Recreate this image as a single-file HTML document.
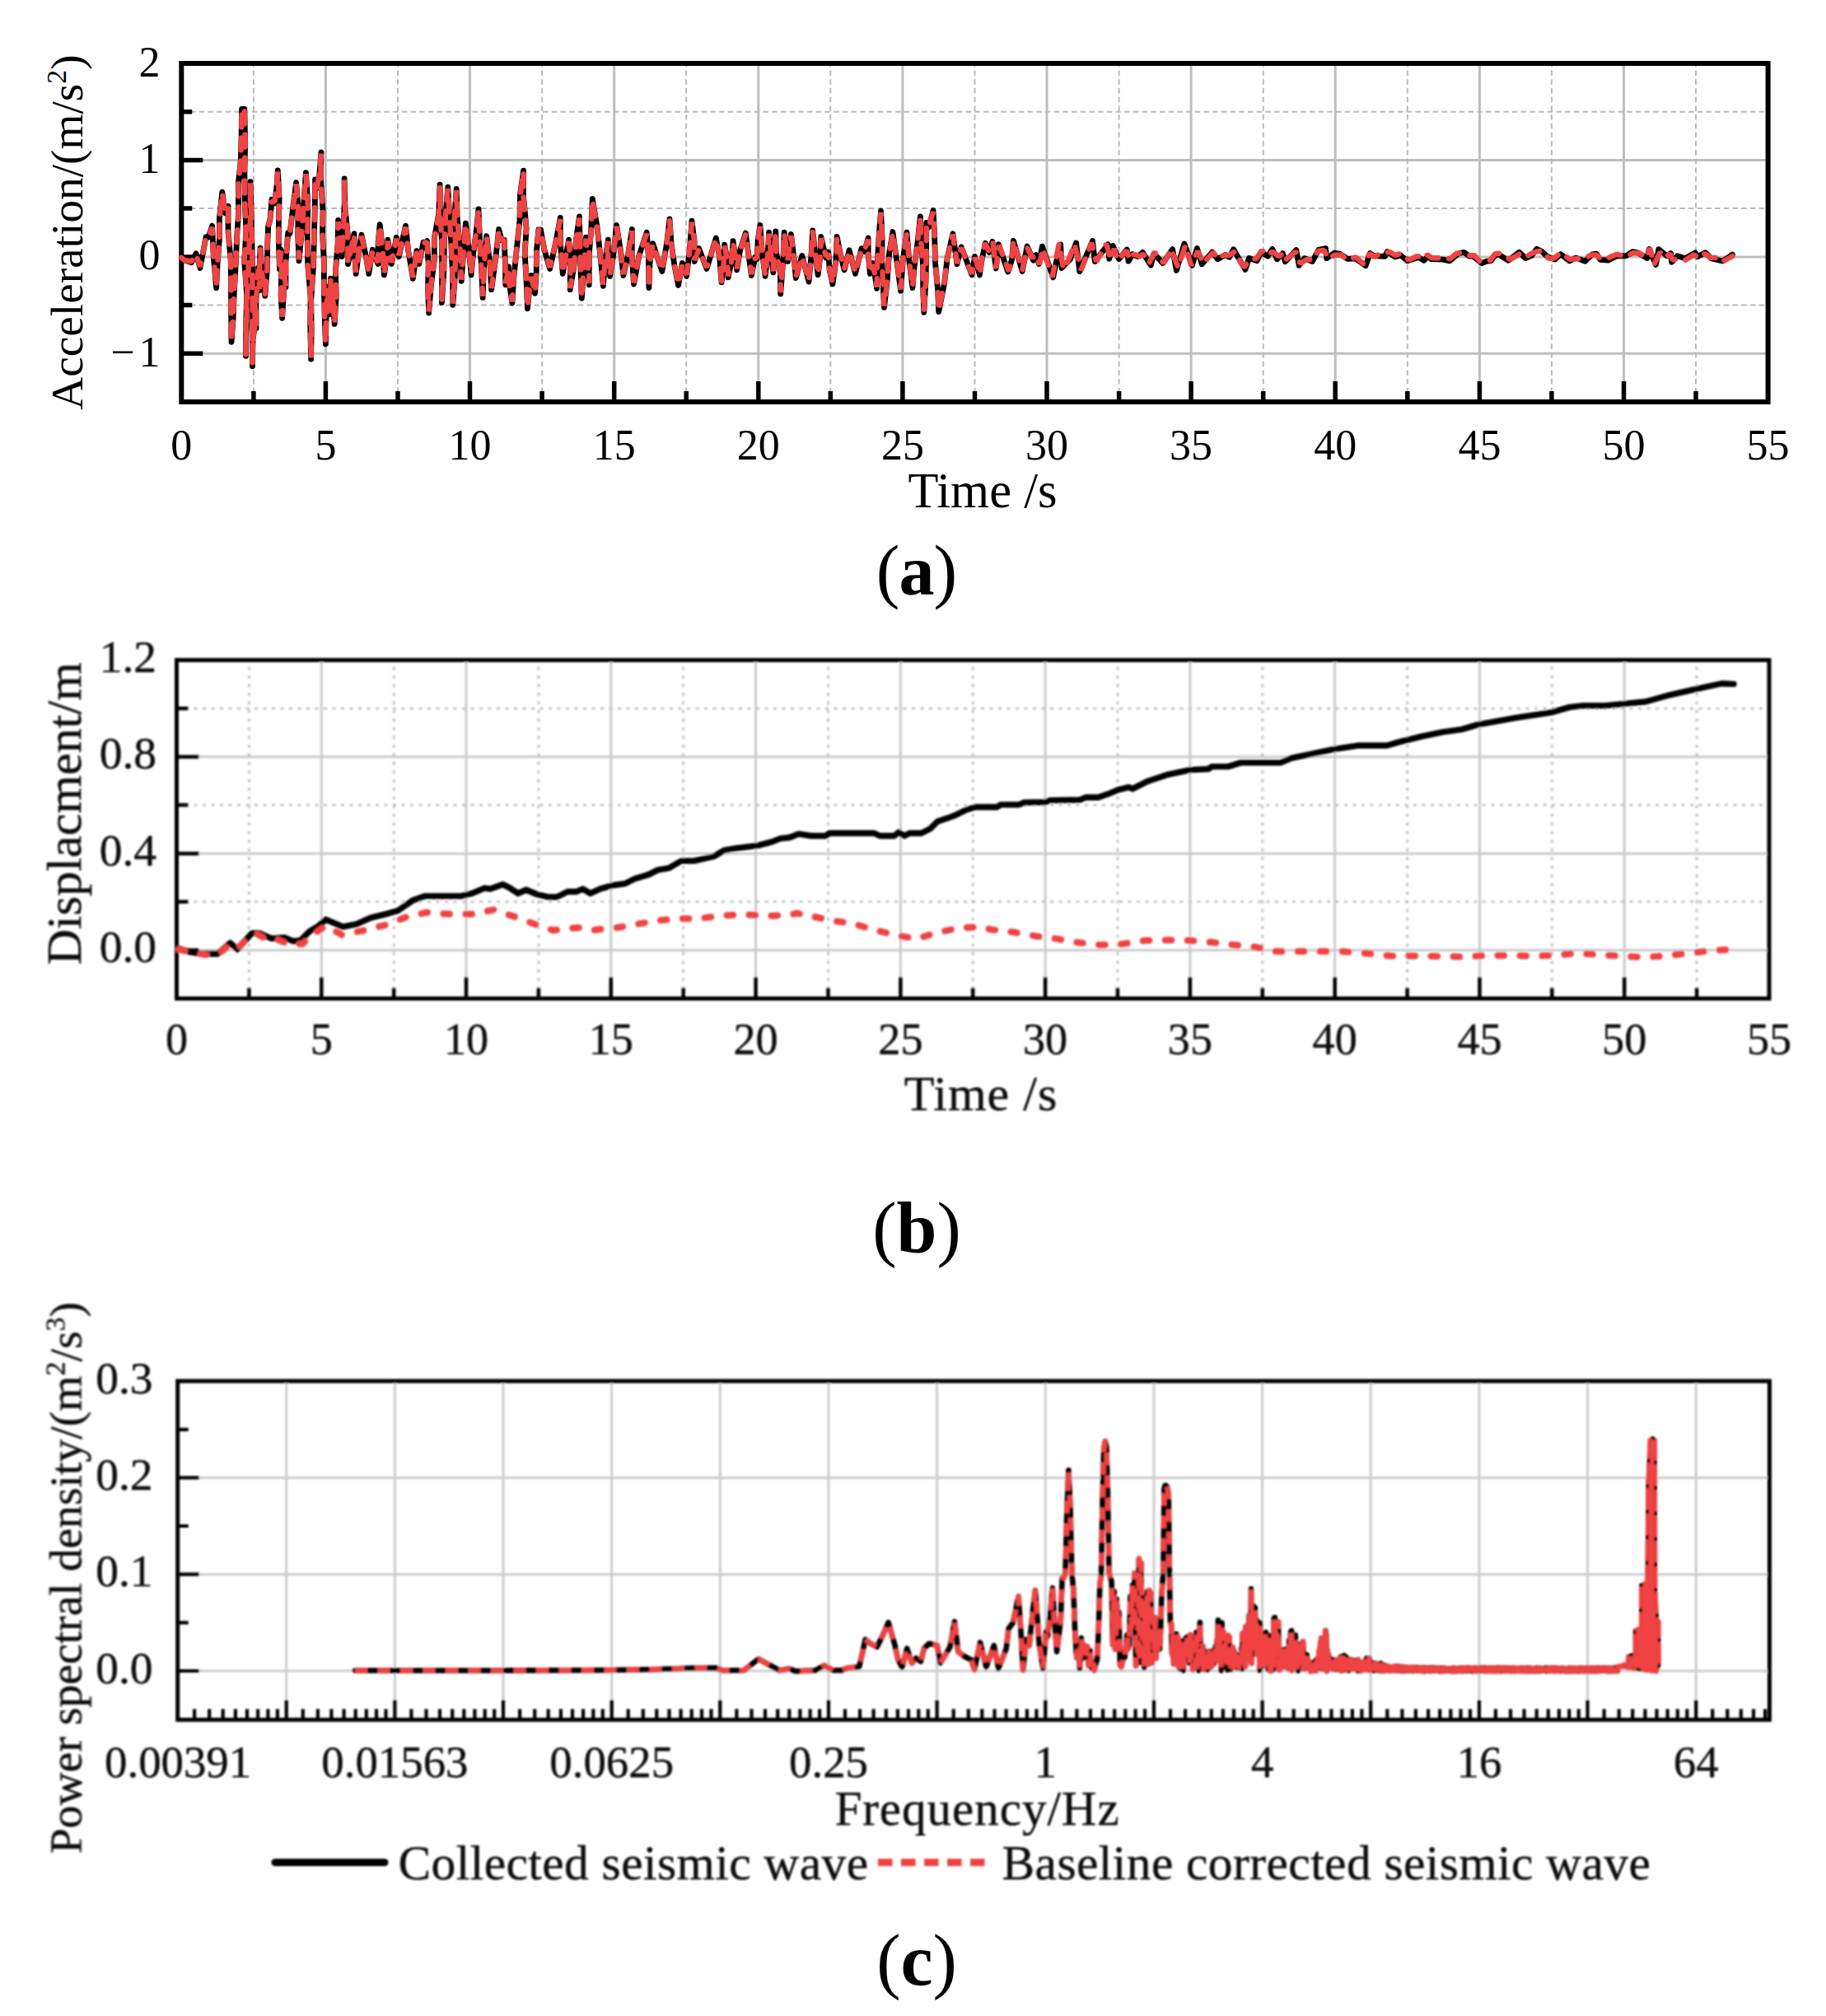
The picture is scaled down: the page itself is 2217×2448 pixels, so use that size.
<!DOCTYPE html>
<html lang="en"><head><meta charset="utf-8"><title>Seismic wave baseline correction</title>
<style>
html,body{margin:0;padding:0;background:#fff;}
body{width:2217px;height:2448px;overflow:hidden;}
svg{display:block;font-family:'Liberation Serif', serif;fill:#000;}
.lo text{stroke:#111;stroke-width:0.45px;}
</style></head><body>
<svg width="2217" height="2448" viewBox="0 0 2217 2448">
<defs><filter id="blur" x="-2%" y="-5%" width="104%" height="110%"><feGaussianBlur stdDeviation="0.9"/></filter></defs>
<rect width="2217" height="2448" fill="#fff"/>
<g id="chartA">
<path d="M395.4,77.0V488.0M570.5,77.0V488.0M745.7,77.0V488.0M920.8,77.0V488.0M1095.9,77.0V488.0M1271.0,77.0V488.0M1446.1,77.0V488.0M1621.2,77.0V488.0M1796.4,77.0V488.0M1971.5,77.0V488.0M220.3,194.4H2146.6M220.3,311.9H2146.6M220.3,429.3H2146.6" stroke="#BEBEBE" stroke-width="3" fill="none"/>
<path d="M307.9,488.0V77.0M483.0,488.0V77.0M658.1,488.0V77.0M833.2,488.0V77.0M1008.3,488.0V77.0M1183.5,488.0V77.0M1358.6,488.0V77.0M1533.7,488.0V77.0M1708.8,488.0V77.0M1883.9,488.0V77.0M2059.0,488.0V77.0M220.3,135.7H2146.6M220.3,253.1H2146.6M220.3,370.6H2146.6" stroke="#B9B9B9" stroke-width="2" stroke-dasharray="6.5 4.2" fill="none"/>
<path d="M395.4,488.0v-25M570.5,488.0v-25M745.7,488.0v-25M920.8,488.0v-25M1095.9,488.0v-25M1271.0,488.0v-25M1446.1,488.0v-25M1621.2,488.0v-25M1796.4,488.0v-25M1971.5,488.0v-25M307.9,488.0v-13M483.0,488.0v-13M658.1,488.0v-13M833.2,488.0v-13M1008.3,488.0v-13M1183.5,488.0v-13M1358.6,488.0v-13M1533.7,488.0v-13M1708.8,488.0v-13M1883.9,488.0v-13M2059.0,488.0v-13M220.3,194.4h26M220.3,311.9h26M220.3,429.3h26M220.3,135.7h13M220.3,253.1h13M220.3,370.6h13" stroke="#000" stroke-width="5.5" fill="none"/>
<rect x="220.3" y="77.0" width="1926.3" height="411.0" fill="none" stroke="#000" stroke-width="6"/>
<polyline points="220.3,313.0 224.0,316.0 232.5,318.7 238.0,307.8 243.0,325.5 250.0,287.8 253.0,288.2 257.7,274.2 259.3,312.3 262.6,349.6 264.0,321.3 266.6,287.9 266.4,265.0 269.8,233.2 273.5,258.8 277.0,250.2 277.0,281.1 280.2,316.0 280.5,349.1 280.6,379.5 281.0,415.3 283.1,386.9 284.3,354.6 286.4,317.8 287.5,290.0 289.5,259.2 289.3,223.2 292.3,195.3 293.1,167.0 293.6,132.5 296.8,132.5 297.7,173.3 296.9,209.9 297.3,248.4 298.9,279.2 296.7,317.6 299.6,356.8 298.7,393.2 298.5,432.3 299.4,396.1 299.9,362.4 301.5,329.7 302.7,294.6 304.2,259.8 304.0,220.6 305.0,255.3 306.0,299.1 306.5,333.3 306.4,367.8 307.1,408.0 306.5,444.8 306.8,414.1 309.6,394.3 309.5,363.2 311.0,398.8 310.9,364.4 313.5,325.2 315.0,352.8 315.2,324.2 316.0,301.2 318.2,332.5 321.8,359.4 324.3,327.6 324.7,299.5 325.6,275.0 328.0,266.0 330.0,242.2 333.5,246.8 336.1,225.5 337.3,206.9 339.1,240.7 338.4,270.8 338.3,293.4 339.5,326.8 341.0,303.2 341.9,327.2 341.1,357.9 342.6,386.3 344.4,357.0 345.5,333.2 347.0,348.8 346.9,318.7 349.7,282.7 352.0,283.3 355.2,256.2 359.6,221.7 362.0,252.4 361.7,285.3 363.0,316.8 366.3,281.8 368.8,246.3 371.4,209.6 373.8,247.4 373.2,286.9 373.7,321.3 377.1,360.8 376.7,394.4 377.6,436.1 378.2,400.4 377.7,364.3 380.5,323.4 381.3,290.3 382.3,253.0 382.6,217.8 385.0,228.8 388.1,208.8 389.9,185.0 389.2,214.7 392.0,255.2 391.5,284.4 393.3,316.6 393.4,349.8 394.2,385.3 395.4,417.8 396.1,382.0 398.0,348.2 400.0,381.8 401.6,356.2 401.5,338.2 402.7,359.4 403.5,376.8 404.5,353.2 404.7,371.1 406.2,393.4 408.2,359.8 407.4,329.9 410.1,295.7 410.6,267.4 412.3,288.1 415.1,311.6 417.1,279.5 418.2,245.7 418.1,216.8 419.0,252.5 422.3,285.5 422.5,320.5 430.0,283.7 430.2,305.0 432.2,332.4 435.6,306.3 438.9,285.2 444.3,311.5 447.8,332.4 452.3,303.1 459.0,320.5 459.1,294.8 461.2,272.6 464.8,304.4 466.4,333.9 469.6,311.3 470.9,291.2 475.4,320.5 481.3,288.2 484.3,311.6 492.5,274.1 495.7,304.5 501.4,338.3 505.9,304.6 508.8,320.5 514.0,294.2 516.3,295.2 518.5,292.7 520.2,320.0 519.5,350.2 520.7,380.0 523.2,348.1 527.4,314.9 527.2,290.1 532.7,259.3 534.1,224.2 534.5,263.6 536.6,293.6 536.6,334.3 536.4,367.4 538.8,332.5 539.4,296.0 541.1,258.8 543.8,227.2 545.6,261.3 547.8,295.1 549.6,336.1 549.8,370.3 552.2,338.3 553.3,300.5 551.6,266.6 554.2,229.4 555.2,265.1 558.7,304.2 560.2,341.3 562.5,309.7 565.4,271.1 569.1,301.2 572.1,333.9 574.3,310.1 578.0,282.9 581.0,254.0 582.3,287.4 584.6,328.1 586.2,361.4 587.4,326.4 590.7,286.7 595.0,321.7 596.6,351.7 602.1,311.2 605.6,278.5 609.3,291.9 612.3,291.5 613.4,321.5 613.8,345.8 617.5,323.9 618.3,344.2 621.9,368.1 623.9,336.1 627.2,303.5 631.0,267.5 631.5,236.3 635.6,207.1 635.4,237.2 639.1,277.0 637.2,307.7 639.0,339.8 640.5,374.8 642.3,355.7 645.0,334.3 649.5,356.2 651.2,329.4 651.5,303.4 653.9,279.0 656.5,279.0 660.9,303.2 667.6,326.4 674.7,294.5 680.3,264.4 680.4,295.8 683.3,332.4 686.6,312.6 690.7,291.2 692.4,320.5 692.2,351.7 696.9,323.1 699.4,291.5 703.4,262.9 704.3,297.6 705.1,330.6 706.3,362.2 708.8,323.1 711.5,288.2 713.5,318.6 715.3,345.8 715.2,310.4 717.7,279.2 719.3,241.3 725.0,275.6 729.3,314.3 732.4,347.3 734.6,318.9 738.3,291.2 738.2,315.8 740.6,335.4 745.0,307.4 748.5,273.3 753.6,305.3 756.9,334.6 762.9,307.1 767.4,278.5 767.2,312.5 769.6,345.0 775.8,310.8 785.2,282.2 787.4,312.2 787.9,349.5 789.0,319.4 792.6,295.6 803.8,329.4 809.6,295.1 813.0,265.9 815.0,295.5 818.9,322.4 823.6,346.5 828.4,319.4 833.6,335.4 837.3,304.4 840.0,268.1 843.1,293.4 843.2,317.5 848.5,301.6 858.1,326.4 869.3,288.9 873.6,312.2 876.0,342.8 878.7,320.1 879.7,297.1 882.6,313.8 884.2,336.9 887.9,318.2 890.1,292.7 894.6,327.9 898.5,304.1 905.3,283.0 909.1,311.4 912.4,334.6 916.9,312.0 919.1,314.5 920.2,291.4 922.9,273.3 925.2,305.3 929.1,335.4 932.2,308.0 933.6,282.2 935.8,305.8 938.8,330.9 939.8,305.2 941.8,280.8 942.4,306.2 947.3,330.9 947.7,356.9 950.8,316.9 952.2,282.2 956.7,317.5 960.4,284.5 964.0,313.1 966.3,337.6 973.8,310.5 982.0,342.1 984.9,311.2 986.7,280.0 989.9,308.1 993.1,333.9 996.3,307.9 996.8,287.5 1002.8,313.1 1005.8,306.1 1007.1,327.5 1011.0,345.0 1014.9,316.4 1016.2,287.5 1020.5,309.4 1025.1,327.9 1031.1,303.8 1038.5,332.4 1046.0,301.6 1049.7,305.6 1054.1,288.9 1054.2,308.8 1056.4,332.4 1060.1,319.4 1064.6,350.3 1065.2,319.6 1067.2,285.4 1069.5,256.2 1071.1,289.1 1070.8,316.4 1072.2,346.9 1073.5,373.3 1077.2,340.9 1079.5,308.3 1083.9,281.5 1088.7,316.4 1093.6,353.2 1096.2,316.6 1101.0,282.2 1103.9,318.1 1108.0,349.5 1110.0,324.6 1114.2,292.6 1117.4,262.9 1118.4,294.7 1120.6,321.5 1120.7,351.9 1121.8,379.3 1124.0,342.2 1124.6,310.3 1124.8,270.3 1127.8,275.8 1133.0,255.5 1134.6,284.1 1135.5,318.7 1138.6,351.4 1139.7,378.5 1146.5,344.8 1150.1,313.4 1156.9,283.7 1162.0,320.7 1167.1,299.9 1180.0,333.8 1183.5,311.4 1189.4,334.0 1192.1,314.9 1196.5,295.3 1201.3,306.4 1204.9,293.3 1209.3,326.0 1212.4,296.6 1223.8,330.1 1228.6,315.3 1230.4,292.3 1241.2,329.4 1247.1,299.0 1254.6,316.1 1257.9,309.6 1261.4,320.4 1265.4,299.2 1278.7,336.9 1282.3,318.5 1287.7,296.9 1289.0,325.5 1299.5,314.6 1306.6,295.0 1310.8,329.6 1326.5,292.5 1329.4,317.6 1345.2,296.7 1346.7,314.3 1351.1,298.4 1358.6,314.6 1368.3,303.0 1370.1,317.2 1375.0,308.6 1381.6,311.6 1387.3,306.4 1397.3,322.1 1401.1,307.9 1411.8,319.6 1423.6,302.7 1428.4,328.4 1437.9,295.9 1447.4,322.2 1453.4,301.5 1459.2,320.8 1471.8,306.2 1478.3,314.8 1487.6,309.5 1492.6,312.3 1497.6,302.7 1511.9,327.4 1516.5,313.5 1526.1,316.7 1531.1,306.0 1539.4,311.2 1544.8,302.4 1550.5,314.8 1557.4,307.5 1560.4,317.7 1573.8,303.6 1577.2,322.3 1584.0,313.6 1593.4,317.5 1600.9,303.4 1609.5,301.5 1610.7,313.7 1620.4,307.0 1627.0,308.4 1636.2,314.3 1645.7,313.8 1658.1,322.7 1663.5,307.5 1667.0,310.0 1672.5,310.8 1681.4,311.3 1684.4,305.6 1693.9,312.0 1700.6,310.0 1708.8,316.8 1722.1,312.4 1728.8,316.3 1734.2,311.0 1737.5,314.7 1751.8,315.2 1760.1,316.8 1770.3,308.1 1777.4,306.3 1783.9,311.0 1788.4,311.0 1799.1,319.6 1804.6,317.3 1810.4,316.6 1814.8,310.6 1818.9,308.5 1831.3,316.4 1844.5,306.2 1852.1,313.5 1859.6,310.4 1865.8,302.2 1872.4,305.8 1878.5,311.5 1888.0,315.1 1894.9,308.6 1905.5,316.8 1913.4,313.1 1924.5,317.2 1933.3,308.9 1938.4,308.2 1942.9,315.3 1952.4,316.1 1963.8,310.5 1973.8,310.8 1982.0,305.7 1988.4,306.8 1999.9,313.5 2002.2,302.4 2010.4,321.5 2013.8,302.7 2024.0,310.8 2028.5,307.5 2029.7,318.3 2036.6,310.8 2046.0,313.7 2058.1,306.9 2061.0,311.6 2070.6,306.7 2077.5,313.7 2085.2,315.6 2091.6,317.0 2103.4,309.1" fill="none" stroke="#000" stroke-width="6.8" stroke-linejoin="round" stroke-linecap="round"/>
<polyline points="220.3,313.0 224.0,316.0 232.5,317.5 238.0,309.4 243.0,323.9 250.0,288.0 253.0,288.0 257.7,275.8 259.3,312.3 262.6,348.0 264.0,320.5 266.6,287.9 266.4,265.8 269.8,234.8 273.5,257.2 277.0,251.8 277.0,282.1 280.2,316.3 280.5,348.8 280.6,378.5 281.0,413.7 283.1,385.7 284.3,353.8 286.4,317.4 287.5,290.0 289.5,259.2 289.3,223.2 292.3,195.3 293.1,167.0 293.6,132.5 296.8,132.5 297.7,173.1 296.9,209.5 297.3,247.8 298.9,278.4 296.7,316.6 299.6,355.6 298.7,391.8 298.5,430.7 299.4,395.0 299.9,361.9 301.5,329.7 302.7,295.1 304.2,260.9 304.0,222.2 305.0,256.3 306.0,299.6 306.5,333.3 306.4,367.2 307.1,407.0 306.5,443.2 306.8,413.6 309.6,394.9 309.5,364.8 311.0,397.2 310.9,364.4 313.5,326.8 315.0,351.2 315.2,324.2 316.0,302.8 318.2,332.5 321.8,357.8 324.3,326.6 324.7,299.0 325.6,275.0 328.0,266.0 330.0,243.8 333.5,245.2 336.1,225.5 337.3,208.5 339.1,241.5 338.4,270.8 338.3,292.6 339.5,325.2 341.0,304.8 341.9,327.7 341.1,357.3 342.6,384.7 344.4,357.0 345.5,334.8 347.0,347.2 346.9,318.0 349.7,283.0 352.0,283.0 355.2,256.8 359.6,223.3 362.0,253.0 361.7,284.7 363.0,315.2 366.3,281.3 368.8,246.8 371.4,211.2 373.8,248.5 373.2,287.4 373.7,321.3 377.1,360.2 376.7,393.4 377.6,434.5 378.2,399.3 377.7,363.7 380.5,323.4 381.3,290.8 382.3,254.1 382.6,219.4 385.0,227.2 388.1,208.8 389.9,186.6 389.2,215.9 392.0,255.9 391.5,284.7 393.3,316.4 393.4,349.1 394.2,384.2 395.4,416.2 396.1,382.0 398.0,349.8 400.0,380.2 401.6,356.2 401.5,339.8 402.7,359.4 403.5,375.2 404.5,354.8 404.7,371.1 406.2,391.8 408.2,359.0 407.4,329.9 410.1,296.5 410.6,269.0 412.3,288.1 415.1,310.0 417.1,278.9 418.2,246.3 418.1,218.4 419.0,253.1 422.3,285.0 422.5,318.9 430.0,285.3 430.2,305.0 432.2,330.8 435.6,306.3 438.9,286.8 444.3,311.5 447.8,330.8 452.3,304.7 459.0,318.9 459.1,294.8 461.2,274.2 464.8,304.4 466.4,332.3 469.6,311.3 470.9,292.8 475.4,318.9 481.3,289.8 484.3,310.0 492.5,275.7 495.7,304.5 501.4,336.7 505.9,306.2 508.8,318.9 514.0,294.6 516.3,294.7 518.5,293.8 520.2,320.2 519.5,349.5 520.7,378.4 523.2,347.2 527.4,314.6 527.2,290.4 532.7,260.2 534.1,225.8 534.5,264.4 536.6,293.6 536.6,333.5 536.4,365.8 538.8,331.7 539.4,296.0 541.1,259.6 543.8,228.8 545.6,262.1 547.8,295.1 549.6,335.3 549.8,368.7 552.2,337.5 553.3,300.5 551.6,267.4 554.2,231.0 555.2,265.7 558.7,303.7 560.2,339.7 562.5,309.7 565.4,272.7 569.1,301.2 572.1,332.3 574.3,309.6 578.0,283.4 581.0,255.6 582.3,287.9 584.6,327.6 586.2,359.8 587.4,326.4 590.7,288.3 595.0,321.7 596.6,350.1 602.1,311.2 605.6,280.1 609.3,291.7 612.3,291.7 613.4,320.8 613.8,344.2 617.5,325.5 618.3,344.2 621.9,366.5 623.9,335.2 627.2,303.2 631.0,267.8 631.5,237.3 635.6,208.7 635.4,238.1 639.1,277.3 637.2,307.4 639.0,338.8 640.5,373.2 642.3,355.7 645.0,335.9 649.5,354.6 651.2,328.3 651.5,302.9 653.9,279.0 656.5,279.0 660.9,302.4 667.6,324.8 674.7,294.5 680.3,266.0 680.4,295.8 683.3,330.8 686.6,312.6 690.7,292.8 692.4,320.5 692.2,350.1 696.9,322.6 699.4,292.0 703.4,264.5 704.3,298.1 705.1,330.1 706.3,360.6 708.8,323.1 711.5,289.8 713.5,318.6 715.3,344.2 715.2,309.8 717.7,279.7 719.3,242.9 725.0,276.2 729.3,313.8 732.4,345.7 734.6,318.9 738.3,292.8 738.2,315.8 740.6,333.8 745.0,307.4 748.5,274.9 753.6,305.3 756.9,333.0 762.9,307.1 767.4,280.1 767.2,312.5 769.6,343.4 775.8,310.8 785.2,283.8 787.4,312.2 787.9,347.9 789.0,319.4 792.6,297.2 803.8,327.8 809.6,295.1 813.0,267.5 815.0,296.0 818.9,321.9 823.6,344.9 828.4,321.1 833.6,333.8 837.3,304.4 840.0,269.7 843.1,293.4 843.2,315.9 848.5,303.2 858.1,324.8 869.3,290.5 873.6,312.2 876.0,341.2 878.7,320.1 879.7,298.7 882.6,313.8 884.2,335.3 887.9,318.2 890.1,294.3 894.6,326.3 898.5,304.1 905.3,284.6 909.1,311.4 912.4,333.0 916.9,313.2 919.1,313.4 920.2,291.6 922.9,274.9 925.2,305.3 929.1,333.8 932.2,308.0 933.6,283.8 935.8,305.8 938.8,329.3 939.8,305.2 941.8,282.4 942.4,306.7 947.3,330.3 947.7,355.3 950.8,316.9 952.2,283.8 956.7,315.9 960.4,286.1 964.0,313.1 966.3,336.0 973.8,312.1 982.0,340.5 984.9,311.2 986.7,281.6 989.9,308.1 993.1,332.3 996.3,307.9 996.8,289.1 1002.8,311.4 1005.8,307.7 1007.1,327.5 1011.0,343.4 1014.9,316.4 1016.2,289.1 1020.5,309.4 1025.1,326.3 1031.1,305.4 1038.5,330.8 1046.0,303.2 1049.7,304.0 1054.1,290.5 1054.2,308.8 1056.4,330.8 1060.1,321.1 1064.6,348.7 1065.2,319.1 1067.2,285.9 1069.5,257.8 1071.1,289.9 1070.8,316.4 1072.2,346.1 1073.5,371.7 1077.2,340.3 1079.5,308.8 1083.9,283.1 1088.7,316.4 1093.6,351.6 1096.2,316.6 1101.0,283.8 1103.9,318.1 1108.0,347.9 1110.0,324.0 1114.2,293.1 1117.4,264.5 1118.4,295.5 1120.6,321.5 1120.7,351.1 1121.8,377.7 1124.0,341.6 1124.6,310.9 1124.8,271.9 1127.8,274.2 1133.0,257.1 1134.6,284.9 1135.5,318.7 1138.6,350.6 1139.7,376.9 1146.5,344.0 1150.1,313.4 1156.8,284.5 1162.0,319.8 1167.2,300.7 1179.9,332.6 1183.9,312.5 1189.9,332.7 1191.9,315.6 1195.8,295.2 1201.0,305.3 1205.5,295.1 1209.2,326.2 1212.9,298.0 1224.9,329.4 1228.8,314.2 1230.4,292.7 1241.2,328.0 1247.2,300.7 1253.1,313.3 1256.8,309.5 1262.1,320.8 1266.1,302.0 1277.7,336.6 1281.0,319.1 1285.9,295.8 1291.1,326.3 1297.8,314.8 1304.5,296.4 1312.6,328.0 1325.3,294.7 1331.2,317.8 1343.2,296.0 1348.4,315.0 1352.8,301.9 1357.3,315.7 1368.0,304.1 1371.4,315.0 1376.6,308.6 1383.3,311.3 1388.5,308.6 1395.2,319.5 1401.9,306.3 1413.1,319.5 1422.0,302.6 1430.2,324.7 1439.1,298.2 1446.2,322.4 1454.3,304.9 1461.0,319.5 1472.9,306.3 1478.9,314.2 1485.6,309.8 1492.3,309.9 1499.0,305.6 1510.1,324.7 1517.6,315.4 1525.0,314.0 1532.5,304.1 1537.7,309.8 1545.1,305.6 1552.6,311.3 1558.5,307.1 1561.5,315.0 1573.4,305.6 1578.6,320.2 1585.9,315.3 1593.1,315.3 1600.4,304.7 1607.6,303.9 1612.8,314.2 1620.6,309.6 1628.5,309.4 1635.9,315.7 1646.3,312.3 1656.0,320.9 1662.7,307.8 1668.6,312.0 1674.6,308.4 1680.5,308.4 1686.5,305.6 1693.9,309.8 1701.4,307.8 1710.6,315.7 1721.0,310.8 1727.7,314.2 1732.9,309.3 1738.2,313.3 1750.1,313.2 1760.5,314.2 1768.7,307.6 1776.8,307.3 1783.5,310.3 1790.2,310.2 1796.9,317.4 1803.6,317.7 1809.3,316.1 1815.0,308.5 1820.7,307.7 1833.4,315.0 1844.6,308.6 1851.2,312.8 1859.1,307.9 1866.9,305.1 1873.3,304.9 1879.8,313.5 1886.2,313.8 1895.1,307.1 1906.3,315.0 1914.7,314.1 1923.2,314.2 1931.6,309.6 1938.1,309.4 1944.5,314.7 1951.0,314.0 1962.9,308.6 1974.8,312.0 1982.2,307.2 1989.6,307.3 1999.3,312.8 2003.0,301.1 2008.2,320.9 2015.7,306.3 2022.4,312.8 2027.6,307.8 2030.6,315.7 2038.8,313.8 2046.2,315.7 2056.6,309.3 2062.6,313.5 2070.0,307.8 2076.9,312.8 2083.9,312.9 2090.8,318.0 2103.5,311.0" fill="none" stroke="#F04343" stroke-width="6.4" stroke-linejoin="bevel" stroke-linecap="round" stroke-dasharray="15 13"/>
<text x="220.3" y="558.0" font-size="52" text-anchor="middle" >0</text>
<text x="395.4" y="558.0" font-size="52" text-anchor="middle" >5</text>
<text x="570.5" y="558.0" font-size="52" text-anchor="middle" >10</text>
<text x="745.7" y="558.0" font-size="52" text-anchor="middle" >15</text>
<text x="920.8" y="558.0" font-size="52" text-anchor="middle" >20</text>
<text x="1095.9" y="558.0" font-size="52" text-anchor="middle" >25</text>
<text x="1271.0" y="558.0" font-size="52" text-anchor="middle" >30</text>
<text x="1446.1" y="558.0" font-size="52" text-anchor="middle" >35</text>
<text x="1621.2" y="558.0" font-size="52" text-anchor="middle" >40</text>
<text x="1796.4" y="558.0" font-size="52" text-anchor="middle" >45</text>
<text x="1971.5" y="558.0" font-size="52" text-anchor="middle" >50</text>
<text x="2146.6" y="558.0" font-size="52" text-anchor="middle" >55</text>
<text x="194.5" y="92.5" font-size="52" text-anchor="end" >2</text>
<text x="194.5" y="209.9" font-size="52" text-anchor="end" >1</text>
<text x="194.5" y="327.4" font-size="52" text-anchor="end" >0</text>
<text x="194.5" y="444.8" font-size="52" text-anchor="end"><tspan letter-spacing="5">−</tspan>1</text>
<text x="1193.0" y="615.7" font-size="60.5" text-anchor="middle" >Time /s</text>
<text transform="translate(99.5,282) rotate(-90)" font-size="55.3" text-anchor="middle">Acceleration/(m/s<tspan font-size="34" dy="-20">2</tspan><tspan dy="20">)</tspan></text>
</g>
<text x="1112.5" y="721.5" font-size="86" letter-spacing="-1" text-anchor="middle">(<tspan font-weight="bold">a</tspan>)</text>
<g id="chartB" filter="url(#blur)" class="lo">
<path d="M390.3,801.5V1212.5M566.0,801.5V1212.5M741.8,801.5V1212.5M917.6,801.5V1212.5M1093.4,801.5V1212.5M1269.1,801.5V1212.5M1444.9,801.5V1212.5M1620.7,801.5V1212.5M1796.5,801.5V1212.5M1972.2,801.5V1212.5M214.5,918.9H2148.0M214.5,1036.4H2148.0M214.5,1153.8H2148.0" stroke="#CACACA" stroke-width="3" fill="none"/>
<path d="M302.4,1212.5V801.5M478.2,1212.5V801.5M653.9,1212.5V801.5M829.7,1212.5V801.5M1005.5,1212.5V801.5M1181.2,1212.5V801.5M1357.0,1212.5V801.5M1532.8,1212.5V801.5M1708.6,1212.5V801.5M1884.3,1212.5V801.5M2060.1,1212.5V801.5M214.5,860.2H2148.0M214.5,977.6H2148.0M214.5,1095.1H2148.0" stroke="#C4C4C4" stroke-width="3" stroke-dasharray="4 6.5" fill="none"/>
<path d="M390.3,1212.5v-26M566.0,1212.5v-26M741.8,1212.5v-26M917.6,1212.5v-26M1093.4,1212.5v-26M1269.1,1212.5v-26M1444.9,1212.5v-26M1620.7,1212.5v-26M1796.5,1212.5v-26M1972.2,1212.5v-26M302.4,1212.5v-13M478.2,1212.5v-13M653.9,1212.5v-13M829.7,1212.5v-13M1005.5,1212.5v-13M1181.2,1212.5v-13M1357.0,1212.5v-13M1532.8,1212.5v-13M1708.6,1212.5v-13M1884.3,1212.5v-13M2060.1,1212.5v-13M214.5,918.9h27M214.5,1036.4h27M214.5,1153.8h27M214.5,860.2h14M214.5,977.6h14M214.5,1095.1h14" stroke="#000" stroke-width="4.5" fill="none"/>
<rect x="214.5" y="801.5" width="1933.5" height="411.0" fill="none" stroke="#000" stroke-width="5"/>
<polyline points="217.0,1151.7 231.3,1156.1 244.4,1158.2 264.1,1158.2 279.5,1145.1 288.2,1152.8 305.8,1133.1 314.5,1133.1 329.9,1139.6 345.2,1138.5 356.2,1142.9 364.9,1141.8 375.9,1130.9 386.8,1124.3 395.6,1116.6 416.4,1125.4 432.8,1122.1 450.3,1114.4 467.9,1110.1 483.2,1105.7 500.7,1093.6 516.1,1088.1 559.9,1088.1 573.0,1084.9 588.4,1078.3 595.0,1079.4 610.3,1073.9 619.1,1078.3 629.0,1084.9 638.8,1080.5 652.0,1086.0 665.1,1089.2 676.1,1089.2 689.2,1082.7 700.1,1082.7 707.8,1079.4 716.6,1084.9 728.6,1079.4 744.0,1075.0 759.3,1072.8 770.2,1067.3 787.8,1061.9 798.7,1056.4 811.9,1054.2 827.2,1045.4 842.5,1045.4 866.6,1040.0 879.8,1032.3 892.9,1030.1 919.2,1026.8 936.7,1022.4 947.7,1018.1 958.6,1017.0 969.6,1012.6 985.0,1015.0 1002.5,1015.0 1006.9,1011.7 1061.7,1011.7 1068.2,1015.0 1085.8,1015.0 1091.2,1010.6 1097.8,1015.0 1104.4,1011.7 1118.6,1011.7 1129.6,1006.2 1138.3,997.5 1151.5,993.1 1160.2,989.8 1173.4,983.2 1184.3,980.0 1210.6,980.0 1215.0,977.1 1236.9,977.1 1243.5,974.5 1269.8,974.0 1274.2,971.9 1311.4,971.2 1318.0,968.3 1333.3,968.3 1344.3,964.6 1357.4,959.1 1370.5,955.9 1375.0,957.9 1392.5,949.1 1418.8,940.3 1445.1,934.9 1467.0,933.8 1471.4,930.9 1491.1,930.9 1506.4,926.1 1554.6,926.1 1567.8,920.6 1594.1,915.1 1620.3,909.7 1648.8,905.3 1683.9,905.3 1699.2,900.9 1725.5,894.3 1751.8,888.9 1775.0,885.6 1794.4,879.9 1840.4,871.7 1883.2,865.1 1906.2,858.6 1922.6,856.9 1948.9,856.9 1971.9,854.6 1998.2,852.0 2027.7,843.8 2057.3,837.2 2090.2,830.0 2105.0,830.6" fill="none" stroke="#000" stroke-width="7.4" stroke-linejoin="round" stroke-linecap="round"/>
<polyline points="217.0,1152.8 231.3,1156.1 248.8,1159.3 264.1,1159.3 277.3,1148.4 288.2,1152.3 301.4,1137.4 312.3,1134.2 323.3,1140.7 336.4,1140.7 349.6,1146.2 367.1,1146.2 380.2,1134.2 395.6,1124.3 415.3,1135.2 441.6,1129.8 467.9,1123.2 494.2,1113.3 518.3,1107.9 546.7,1110.1 575.2,1110.1 599.3,1104.6 603.8,1106.8 625.7,1113.3 652.0,1123.2 671.7,1129.8 687.0,1127.6 704.5,1126.5 717.7,1129.8 735.2,1127.6 748.3,1126.5 768.1,1123.2 792.2,1118.8 818.4,1115.5 846.9,1115.5 873.2,1112.2 901.7,1110.1 928.0,1112.2 956.4,1111.2 967.4,1109.0 984.9,1112.2 985.0,1112.5 1011.3,1118.0 1034.3,1121.2 1060.6,1128.9 1086.9,1135.5 1113.1,1139.9 1138.3,1132.2 1165.7,1126.7 1190.9,1125.6 1204.1,1128.9 1230.3,1131.8 1256.6,1136.6 1282.9,1139.9 1307.0,1144.2 1335.5,1147.5 1361.8,1146.4 1390.3,1142.1 1418.8,1141.5 1445.1,1142.1 1472.5,1144.3 1496.6,1147.2 1524.0,1149.8 1548.1,1155.3 1576.5,1155.3 1601.7,1155.3 1629.1,1155.3 1657.6,1157.5 1688.3,1160.8 1723.3,1160.8 1749.6,1161.2 1775.0,1161.9 1804.3,1160.2 1833.9,1160.2 1860.2,1160.9 1886.4,1160.2 1912.7,1157.6 1940.7,1159.2 1968.6,1160.9 1996.5,1162.5 2024.5,1160.2 2050.7,1157.6 2077.0,1154.3 2103.3,1152.7" fill="none" stroke="#F04343" stroke-width="8" stroke-linejoin="round" stroke-linecap="round" stroke-dasharray="7.5 19.5"/>
<text x="214.5" y="1280.0" font-size="54.2" text-anchor="middle" fill="#111">0</text>
<text x="390.3" y="1280.0" font-size="54.2" text-anchor="middle" fill="#111">5</text>
<text x="566.0" y="1280.0" font-size="54.2" text-anchor="middle" fill="#111">10</text>
<text x="741.8" y="1280.0" font-size="54.2" text-anchor="middle" fill="#111">15</text>
<text x="917.6" y="1280.0" font-size="54.2" text-anchor="middle" fill="#111">20</text>
<text x="1093.4" y="1280.0" font-size="54.2" text-anchor="middle" fill="#111">25</text>
<text x="1269.1" y="1280.0" font-size="54.2" text-anchor="middle" fill="#111">30</text>
<text x="1444.9" y="1280.0" font-size="54.2" text-anchor="middle" fill="#111">35</text>
<text x="1620.7" y="1280.0" font-size="54.2" text-anchor="middle" fill="#111">40</text>
<text x="1796.5" y="1280.0" font-size="54.2" text-anchor="middle" fill="#111">45</text>
<text x="1972.2" y="1280.0" font-size="54.2" text-anchor="middle" fill="#111">50</text>
<text x="2148.0" y="1280.0" font-size="54.2" text-anchor="middle" fill="#111">55</text>
<text x="190.0" y="816.0" font-size="55.5" text-anchor="end" fill="#111">1.2</text>
<text x="190.0" y="933.4" font-size="55.5" text-anchor="end" fill="#111">0.8</text>
<text x="190.0" y="1050.9" font-size="55.5" text-anchor="end" fill="#111">0.4</text>
<text x="190.0" y="1168.3" font-size="55.5" text-anchor="end" fill="#111">0.0</text>
<text x="1191.0" y="1347.6" font-size="60" text-anchor="middle" fill="#111" letter-spacing="1">Time /s</text>
<text transform="translate(98,988) rotate(-90)" font-size="60.2" text-anchor="middle" fill="#111">Displacment/m</text>
</g>
<text x="1113" y="1521.2" font-size="88" text-anchor="middle">(<tspan font-weight="bold">b</tspan>)</text>
<g id="chartC" filter="url(#blur)" class="lo">
<path d="M347.7,1677.0V2088.3M479.4,1677.0V2088.3M611.0,1677.0V2088.3M742.7,1677.0V2088.3M874.3,1677.0V2088.3M1006.0,1677.0V2088.3M1137.6,1677.0V2088.3M1269.3,1677.0V2088.3M1401.0,1677.0V2088.3M1532.6,1677.0V2088.3M1664.2,1677.0V2088.3M1795.9,1677.0V2088.3M1927.5,1677.0V2088.3M2059.2,1677.0V2088.3M215.7,1794.4H2148.4M215.7,1911.7H2148.4M215.7,2029.0H2148.4" stroke="#CCCCCC" stroke-width="3" fill="none"/>
<polyline points="431.0,2028.5 600.0,2028.5 740.0,2028.0 800.0,2027.0 840.0,2025.5 869.6,2025.3 877.5,2028.3 903.1,2028.3 920.8,2014.5 946.5,2028.3 958.3,2026.3 966.2,2029.3 989.8,2028.3 1000.7,2022.4 1011.5,2028.3 1021.4,2028.3 1029.3,2025.3 1043.1,2024.3 1047.0,2007.6 1050.6,1990.8 1056.9,1995.8 1064.8,1999.7 1071.7,1985.9 1078.6,1970.1 1086.5,1997.7 1090.4,2015.5 1095.3,2024.3 1101.2,2001.7 1107.2,2019.4 1112.1,2013.5 1118.0,2017.4 1121.9,2001.7 1127.9,1995.8 1137.7,1997.7 1141.7,2019.4 1153.5,1999.7 1159.0,1969.1 1163.3,2005.6 1171.2,2011.5 1179.1,2015.5 1183.1,2027.3 1190.0,1994.4 1197.4,2024.2 1206.8,1998.2 1212.3,2026.1 1221.7,2001.9 1224.5,1977.7 1230.0,1970.2 1236.6,1938.6 1239.3,1977.7 1242.1,2028.0 1245.9,1990.7 1249.6,1998.2 1254.2,1953.5 1257.0,1931.1 1261.7,1996.3 1266.4,2026.1 1270.1,1981.4 1271.9,1987.0 1274.7,1962.8 1277.9,1928.3 1280.3,1968.4 1283.1,2005.6 1287.8,1968.4 1289.6,1916.2 1291.3,1916.2 1293.4,1911.7 1295.4,1834.6 1297.4,1785.4 1299.4,1828.3 1301.4,1910.8 1303.3,1930.1 1305.3,1984.1 1307.2,2012.8 1309.1,2000.1 1310.9,2025.9 1312.8,1989.1 1314.6,2013.1 1316.4,1997.5 1318.2,2012.6 1320.0,1999.3 1321.8,2022.4 1323.5,2004.4 1325.3,2025.1 1327.0,2017.7 1328.7,2028.3 1330.4,2020.3 1332.1,2014.9 1333.7,1982.2 1335.4,1923.1 1337.0,1913.1 1338.6,1823.5 1340.2,1759.0 1341.8,1750.0 1343.4,1757.5 1344.9,1812.7 1346.5,1909.1 1348.0,1915.5 1349.6,1920.1 1351.1,1997.1 1352.6,1932.4 1354.1,2002.7 1355.5,1941.6 1357.0,1965.5 1358.5,1957.4 1359.9,2021.4 1361.3,2024.1 1362.8,2018.3 1364.2,2010.0 1365.6,2012.6 1367.0,2001.1 1368.4,1985.3 1369.7,2001.9 1371.1,1997.8 1372.4,1938.9 1373.8,1975.7 1375.1,1924.8 1376.4,1976.5 1377.7,1910.1 1379.1,2022.9 1380.4,2005.5 1381.6,2006.2 1382.9,1892.9 1384.2,2018.6 1385.4,1897.9 1386.7,1997.5 1387.9,1939.8 1389.2,2025.0 1390.4,1953.1 1391.6,2001.8 1392.9,1932.9 1394.1,2020.6 1395.3,1931.2 1396.4,1989.3 1397.6,1934.8 1398.8,2019.1 1400.0,2004.2 1401.1,2004.7 1402.3,1964.1 1403.4,2013.8 1404.6,1983.8 1405.7,2001.8 1406.8,1980.0 1408.0,2002.3 1409.1,1979.9 1410.2,1942.4 1411.3,1924.0 1412.4,1905.8 1413.5,1807.6 1414.5,1803.9 1415.6,1803.9 1416.7,1805.2 1417.8,1808.1 1418.8,1818.6 1419.9,1912.5 1420.9,1970.6 1422.0,1971.1 1423.0,2008.3 1424.0,1987.4 1425.0,2020.5 1426.1,1987.8 1427.1,2014.9 1428.1,1984.1 1429.1,2018.3 1430.1,1987.7 1431.1,2024.3 1432.1,1994.8 1433.0,2026.5 1434.0,1995.1 1435.0,2020.3 1436.0,1992.9 1436.9,2028.4 1437.9,1998.3 1438.8,2016.5 1439.8,1989.0 1440.7,2014.4 1441.7,1987.8 1442.6,2007.2 1443.5,1989.9 1444.4,2019.3 1445.4,1985.0 1446.3,2011.0 1447.2,1990.3 1448.1,2027.2 1449.0,2002.4 1449.9,1996.8 1450.8,1997.7 1451.7,2023.5 1452.6,1982.0 1453.4,2024.1 1454.3,2008.1 1455.2,2028.4 1456.1,1994.7 1456.9,1970.1 1457.8,2014.1 1458.6,2011.4 1459.5,1998.4 1460.4,1998.9 1461.2,2027.1 1462.0,2006.5 1462.9,2007.3 1463.7,2018.3 1464.5,2005.5 1465.4,2027.3 1466.2,2027.5 1467.0,2023.7 1467.8,2005.6 1468.6,2021.6 1469.5,2005.0 1470.3,2024.2 1471.1,2010.3 1471.9,2021.3 1472.7,2010.9 1473.5,2020.5 1474.2,2012.7 1475.0,2010.7 1475.8,1999.3 1476.6,2015.7 1477.4,1992.1 1478.1,2016.4 1478.9,1967.4 1479.7,2000.8 1480.4,1991.8 1481.2,1994.2 1482.0,2000.5 1482.7,2028.4 1483.5,1970.5 1484.2,2008.3 1485.0,1981.1 1485.7,2024.6 1486.5,1995.0 1487.2,2013.0 1487.9,1997.4 1488.7,2009.3 1489.4,1987.0 1490.1,2027.7 1490.8,1985.9 1491.6,2014.2 1492.3,1987.7 1493.0,2017.1 1493.7,2000.0 1494.4,2027.1 1495.1,2001.6 1495.8,2020.6 1496.5,2000.1 1497.2,2024.8 1497.9,2004.2 1498.6,2021.5 1499.3,2007.1 1500.0,2023.3 1500.7,2015.2 1501.4,2019.6 1502.1,2012.5 1502.7,2025.2 1503.4,2017.7 1504.1,2024.5 1504.8,2009.7 1505.4,2010.2 1506.1,2016.9 1506.8,2018.7 1507.4,2001.4 1508.1,2026.4 1508.7,1983.4 1509.4,2019.5 1510.1,1991.2 1510.7,1983.9 1511.4,2014.3 1512.0,2023.7 1512.6,1975.0 1513.3,2005.2 1513.9,1986.1 1514.6,2009.0 1515.2,1994.9 1515.8,2015.5 1516.5,1961.7 1517.1,2002.7 1517.7,2012.9 1518.4,1987.2 1519.0,1929.4 1519.6,2019.5 1520.2,2001.5 1520.8,1986.3 1521.5,1949.8 1522.1,1998.8 1522.7,1964.5 1523.3,2000.6 1523.9,1952.3 1524.5,1989.8 1525.1,1970.5 1525.7,2008.1 1526.3,1967.7 1526.9,2003.1 1527.5,1995.7 1528.1,2002.2 1528.7,1973.4 1529.3,2028.1 1529.9,1970.5 1530.5,2025.3 1531.0,2024.7 1531.6,2013.7 1532.2,2011.3 1532.8,2003.6 1533.4,2014.5 1533.9,2011.9 1534.5,1987.3 1535.1,2022.4 1535.7,2011.7 1536.2,1989.0 1536.8,1982.1 1537.4,2018.1 1537.9,1996.6 1538.5,2009.1 1539.1,2010.8 1539.6,2026.9 1540.2,1995.2 1540.7,2013.5 1541.3,1986.4 1541.8,2028.4 1542.4,2001.5 1542.9,2029.0 1543.5,1998.3 1544.0,2024.0 1544.6,2010.4 1545.1,2009.1 1545.7,1991.9 1546.2,2027.1 1546.7,1965.3 1547.3,2002.4 1547.8,1964.0 1548.3,2007.6 1548.9,1991.5 1549.4,2010.3 1549.9,1984.9 1550.5,2000.9 1551.0,1979.9 1551.5,2023.3 1552.0,1969.6 1552.6,2019.6 1553.1,2018.6 1553.6,2027.7 1554.1,2009.0 1554.6,2016.9 1555.2,2012.2 1555.7,2017.2 1556.2,2005.0 1556.7,2006.0 1557.2,2006.6 1557.7,2022.6 1558.2,2003.3 1558.7,2024.1 1559.2,2011.1 1559.7,2015.8 1560.2,2004.5 1560.7,2023.4 1561.2,2007.4 1561.7,2018.0 1562.2,2002.0 1562.7,2020.5 1563.2,2022.2 1563.7,2019.5 1564.2,2007.8 1564.7,2025.9 1565.2,1991.7 1565.7,2026.9 1566.2,2021.3 1566.6,2020.4 1567.1,1981.7 1567.6,2020.7 1568.1,1980.1 1568.6,2028.2 1569.0,1991.9 1569.5,2009.1 1570.0,2000.3 1570.5,1997.0 1571.0,2014.7 1571.4,2004.7 1571.9,2022.5 1572.4,2009.2 1572.8,1985.5 1573.3,2017.2 1573.8,2011.7 1574.2,2020.1 1574.7,1997.6 1575.2,2024.0 1575.6,2006.0 1576.1,2028.6 1576.6,1996.7 1577.0,2023.5 1577.5,2000.4 1577.9,2005.2 1578.4,2003.7 1578.8,2011.5 1579.3,2006.6 1579.7,2022.0 1580.2,2001.7 1580.6,2010.7 1581.1,1997.4 1581.5,2017.4 1582.0,1993.2 1582.4,2000.7 1582.9,2008.9 1583.3,2026.8 1583.8,2013.1 1584.2,2026.2 1584.7,2024.2 1585.1,2017.7 1585.5,2014.2 1586.0,2023.7 1586.4,2009.2 1586.8,2009.7 1587.3,2016.4 1587.7,2021.9 1588.1,2016.4 1588.6,2018.0 1589.0,2017.7 1589.9,2021.1 1590.3,2026.4 1590.7,2021.4 1591.2,2029.3 1591.6,2022.0 1592.0,2027.9 1592.4,2022.4 1592.8,2021.5 1593.3,2019.0 1593.7,2028.8 1594.1,2020.8 1594.5,2024.2 1594.9,2022.7 1595.4,2020.0 1595.8,2019.5 1596.2,2027.8 1597.0,2027.6 1597.4,2016.4 1597.8,2028.6 1598.3,2018.9 1598.7,2026.2 1599.1,2019.2 1599.5,2023.9 1599.9,2016.5 1600.3,2024.6 1600.7,2011.5 1601.1,2011.4 1601.9,2003.4 1602.3,2002.1 1602.7,2021.7 1603.1,1995.4 1603.5,2019.4 1603.9,1992.2 1604.3,1989.1 1604.7,2026.8 1605.5,2000.3 1605.9,2010.2 1606.3,1999.4 1606.7,2018.9 1607.1,1999.8 1607.5,2014.1 1608.2,2024.3 1608.6,2000.9 1609.0,2013.0 1609.4,1980.1 1609.8,2008.8 1610.2,1985.4 1610.9,2029.1 1611.3,2017.0 1611.7,2004.2 1612.1,2026.8 1612.5,2007.7 1612.9,2013.6 1613.6,2021.3 1614.0,2012.2 1614.4,2025.8 1614.7,2025.2 1615.5,2020.5 1615.9,2022.8 1616.2,2017.2 1616.6,2022.4 1617.0,2018.6 1617.4,2021.3 1618.1,2026.9 1618.5,2019.5 1618.8,2015.6 1619.6,2026.5 1619.9,2018.1 1620.3,2026.4 1620.7,2021.2 1621.0,2024.6 1621.4,2020.9 1622.1,2017.7 1622.5,2027.1 1622.8,2015.7 1623.2,2024.5 1623.9,2025.9 1624.3,2016.3 1624.6,2025.8 1625.0,2015.8 1625.7,2017.0 1626.1,2015.7 1626.8,2023.4 1627.1,2013.3 1627.5,2017.2 1627.8,2011.9 1628.2,2028.6 1628.5,2019.1 1629.2,2016.6 1629.6,2014.2 1629.9,2014.1 1630.3,2023.4 1631.3,2014.0 1631.7,2027.9 1632.0,2010.4 1632.3,2026.9 1633.0,2026.8 1633.4,2014.7 1633.7,2025.5 1634.4,2014.1 1634.7,2012.4 1635.1,2026.8 1635.7,2022.8 1636.1,2014.0 1636.4,2024.1 1636.7,2018.8 1637.4,2017.6 1637.7,2028.4 1638.4,2025.9 1638.7,2015.5 1639.4,2018.7 1639.7,2025.3 1640.1,2016.7 1640.4,2026.8 1641.0,2024.5 1641.4,2015.6 1641.7,2025.8 1642.0,2018.2 1643.0,2025.5 1643.3,2016.3 1643.7,2026.9 1644.0,2018.3 1644.6,2019.9 1644.9,2024.3 1645.3,2017.2 1645.6,2024.3 1646.2,2026.8 1646.5,2016.2 1647.5,2026.3 1647.8,2017.7 1648.4,2017.7 1648.7,2028.7 1649.1,2015.5 1649.7,2028.7 1650.0,2028.6 1650.3,2028.4 1650.6,2027.8 1650.9,2021.2 1651.6,2018.3 1652.2,2028.6 1652.8,2021.3 1653.1,2028.5 1653.7,2024.6 1654.0,2019.4 1654.3,2024.6 1654.6,2020.3 1655.5,2024.8 1655.8,2020.2 1656.5,2017.7 1656.8,2027.2 1657.4,2023.2 1657.7,2016.7 1658.3,2020.0 1658.6,2027.0 1659.2,2024.4 1659.4,2013.6 1660.0,2013.8 1660.3,2024.4 1660.6,2025.2 1661.2,2027.6 1661.5,2017.2 1662.1,2027.8 1662.4,2013.8 1662.7,2027.2 1663.3,2023.3 1663.6,2028.2 1664.1,2017.7 1664.4,2026.3 1665.0,2025.9 1665.3,2022.3 1666.5,2023.3 1666.7,2026.6 1667.0,2022.6 1667.6,2026.1 1667.9,2028.7 1668.2,2022.9 1669.0,2025.0 1669.3,2019.6 1669.6,2026.6 1669.9,2022.0 1670.7,2026.0 1671.3,2020.1 1671.5,2020.2 1671.8,2027.1 1672.7,2023.0 1672.9,2025.4 1673.2,2023.9 1673.5,2021.1 1674.0,2028.4 1674.9,2022.1 1675.1,2026.1 1675.4,2028.1 1676.2,2025.9 1676.5,2019.9 1676.8,2021.6 1677.3,2028.9 1678.1,2022.9 1678.4,2025.4 1678.7,2022.0 1678.9,2029.1 1680.0,2027.4 1680.3,2021.9 1680.5,2028.5 1680.8,2026.2 1681.3,2023.3 1681.6,2026.3 1682.1,2027.4 1682.9,2023.4 1683.4,2024.7 1683.7,2028.3 1684.2,2028.3 1684.5,2023.1 1685.0,2024.3 1685.3,2027.8 1685.8,2028.1 1686.5,2025.3 1686.8,2028.4 1687.1,2025.3 1687.6,2024.4 1687.8,2028.5 1688.9,2028.3 1689.1,2024.9 1689.6,2024.4 1689.9,2028.8 1690.4,2027.3 1690.6,2024.1 1691.1,2024.3 1691.9,2027.1 1692.1,2023.8 1692.9,2027.3 1693.1,2024.9 1693.6,2027.7 1693.9,2028.0 1694.1,2023.5 1694.9,2028.8 1695.1,2023.8 1695.6,2024.5 1696.3,2028.0 1696.8,2027.6 1697.1,2023.6 1698.0,2023.7 1698.3,2028.5 1698.5,2027.8 1699.0,2026.5 1699.3,2028.7 1699.5,2025.2 1700.2,2026.7 1700.9,2025.1 1701.2,2029.0 1701.7,2024.2 1702.1,2028.7 1702.4,2023.8 1702.8,2025.1 1703.5,2028.3 1703.8,2025.4 1704.0,2028.2 1705.2,2025.8 1705.4,2029.0 1706.1,2025.6 1706.4,2028.4 1707.0,2024.4 1707.3,2028.6 1707.7,2028.4 1708.0,2025.0 1708.2,2027.7 1708.4,2026.0 1709.1,2028.8 1709.3,2025.1 1710.0,2028.0 1710.3,2025.1 1711.4,2028.5 1711.6,2024.9 1712.1,2024.8 1712.3,2028.7 1712.7,2028.2 1713.4,2026.3 1713.9,2024.8 1714.1,2028.9 1714.5,2025.4 1715.0,2027.9 1715.4,2028.9 1716.1,2024.8 1716.5,2024.6 1717.2,2028.8 1717.8,2026.0 1718.1,2028.4 1718.3,2025.3 1718.9,2027.0 1719.1,2025.0 1719.4,2028.5 1720.2,2027.8 1720.4,2025.2 1721.3,2024.8 1721.5,2028.5 1721.9,2028.5 1722.4,2025.1 1722.8,2027.8 1723.0,2025.9 1723.7,2028.7 1723.9,2025.4 1724.7,2025.7 1725.1,2028.0 1725.5,2025.7 1726.2,2028.9 1726.8,2026.8 1727.0,2029.2 1727.4,2028.0 1727.6,2025.5 1728.1,2024.9 1728.3,2029.1 1729.3,2026.2 1729.5,2027.3 1730.1,2026.5 1730.3,2028.5 1730.7,2029.2 1731.3,2025.2 1732.1,2025.7 1732.4,2028.7 1732.8,2025.5 1733.2,2028.1 1734.0,2028.7 1734.2,2025.5 1734.8,2028.1 1735.0,2025.1 1735.4,2025.5 1735.6,2028.4 1736.4,2028.9 1737.0,2025.3 1737.3,2026.3 1737.5,2028.4 1737.9,2028.9 1738.5,2025.8 1739.3,2025.1 1739.5,2028.3 1739.7,2025.7 1740.3,2028.0 1740.9,2028.7 1741.3,2026.0 1741.6,2025.6 1742.2,2028.0 1743.0,2028.7 1743.2,2025.8 1743.4,2025.9 1744.1,2028.8 1744.7,2025.4 1744.9,2028.8 1745.6,2027.8 1745.8,2026.1 1746.2,2026.7 1746.8,2028.0 1747.0,2025.9 1747.5,2029.1 1748.1,2026.5 1748.3,2029.1 1749.4,2027.8 1749.6,2025.4 1750.1,2028.6 1750.3,2026.0 1750.7,2025.9 1751.2,2029.2 1751.6,2028.3 1751.8,2025.8 1752.5,2025.8 1752.7,2028.3 1753.4,2028.8 1753.6,2025.6 1754.3,2026.3 1754.9,2028.7 1755.2,2028.6 1755.4,2026.4 1756.5,2026.6 1756.6,2028.3 1757.4,2028.1 1757.5,2026.2 1758.1,2028.9 1758.2,2026.0 1758.8,2028.3 1759.0,2026.2 1759.8,2028.7 1760.4,2026.0 1760.9,2028.8 1761.1,2026.0 1761.4,2026.3 1761.9,2028.7 1762.3,2028.5 1762.8,2026.1 1763.3,2029.3 1763.5,2025.9 1764.2,2026.0 1764.7,2029.3 1765.4,2025.9 1765.7,2029.0 1766.2,2025.4 1766.4,2028.3 1766.7,2028.4 1767.6,2026.2 1768.1,2029.2 1768.2,2026.3 1768.7,2028.7 1769.2,2026.5 1769.7,2027.9 1770.2,2025.8 1770.4,2028.9 1770.9,2026.7 1771.9,2026.4 1772.0,2029.0 1772.7,2028.1 1772.9,2025.9 1773.0,2028.9 1773.5,2025.5 1774.2,2025.5 1774.3,2028.8 1774.8,2025.8 1775.6,2029.4 1776.1,2026.4 1776.3,2028.4 1776.9,2028.6 1777.4,2025.2 1777.5,2029.0 1778.3,2026.2 1778.8,2028.2 1779.0,2025.9 1779.9,2026.7 1780.1,2028.2 1780.6,2025.9 1780.7,2028.1 1781.2,2026.8 1781.3,2029.0 1782.4,2025.4 1782.6,2028.1 1783.2,2028.0 1783.7,2025.9 1784.1,2028.6 1784.3,2025.4 1784.9,2025.7 1785.1,2028.3 1786.0,2027.7 1786.1,2025.8 1787.0,2026.2 1787.2,2029.3 1787.8,2028.7 1788.0,2025.8 1788.7,2028.1 1788.9,2026.0 1789.3,2028.5 1790.1,2025.1 1790.4,2028.5 1790.9,2025.7 1791.7,2029.1 1791.8,2025.2 1792.3,2028.1 1792.4,2025.8 1793.0,2025.9 1793.2,2029.1 1793.8,2028.0 1794.0,2025.7 1794.6,2028.5 1795.4,2025.8 1795.7,2025.4 1795.8,2028.8 1796.7,2029.0 1796.8,2025.5 1797.4,2029.0 1798.0,2025.4 1798.8,2025.7 1799.0,2027.3 1799.2,2028.1 1799.4,2026.2 1800.1,2028.1 1800.2,2025.1 1801.4,2026.2 1801.5,2029.0 1801.9,2027.9 1802.5,2025.5 1803.0,2025.3 1803.2,2029.2 1803.7,2028.7 1804.2,2025.6 1804.9,2028.9 1805.3,2026.6 1805.7,2026.2 1806.0,2028.6 1806.5,2028.9 1806.9,2025.7 1807.3,2028.6 1807.7,2025.9 1808.1,2028.9 1808.3,2025.7 1809.2,2028.6 1809.6,2025.3 1810.0,2029.1 1810.7,2025.3 1810.8,2025.7 1811.1,2028.5 1811.8,2025.8 1812.2,2028.7 1812.7,2028.3 1813.4,2025.6 1813.6,2026.5 1814.0,2029.2 1814.4,2026.4 1814.8,2029.0 1815.3,2027.9 1815.6,2025.9 1816.4,2028.5 1817.0,2025.3 1817.4,2029.2 1817.6,2025.6 1818.2,2028.6 1818.7,2025.1 1819.0,2026.1 1819.4,2029.0 1820.1,2025.8 1820.2,2028.0 1820.8,2028.9 1821.4,2025.2 1822.0,2028.2 1822.2,2025.3 1822.8,2025.5 1823.3,2028.0 1823.5,2029.1 1824.2,2026.1 1824.4,2025.9 1825.0,2027.8 1825.3,2028.1 1825.8,2025.2 1826.1,2025.3 1826.8,2028.2 1827.7,2028.9 1827.9,2026.0 1828.0,2028.5 1828.1,2025.3 1829.0,2026.1 1829.5,2028.7 1830.1,2025.7 1830.2,2028.3 1830.8,2026.3 1831.4,2029.1 1831.7,2025.5 1831.9,2028.5 1832.6,2028.7 1832.7,2025.7 1833.9,2028.4 1834.0,2025.9 1834.5,2027.7 1834.8,2025.8 1835.5,2025.8 1835.7,2029.2 1836.1,2028.8 1836.8,2025.6 1837.1,2029.0 1837.2,2025.7 1837.9,2025.5 1838.0,2028.5 1839.2,2028.8 1839.3,2026.0 1840.3,2029.2 1840.4,2026.0 1841.1,2028.6 1841.3,2026.0 1841.7,2029.0 1842.3,2026.1 1843.0,2028.7 1843.2,2026.2 1843.5,2028.8 1843.8,2025.8 1844.3,2026.0 1844.6,2028.9 1845.1,2028.6 1845.4,2025.8 1846.0,2029.2 1846.5,2025.8 1847.0,2025.9 1847.3,2028.4 1847.8,2025.9 1848.0,2028.4 1848.7,2025.7 1849.5,2028.8 1850.0,2025.9 1850.4,2028.5 1850.6,2028.8 1850.7,2025.7 1851.4,2028.5 1852.0,2026.0 1852.3,2029.3 1853.1,2025.9 1853.2,2028.7 1853.9,2025.6 1854.1,2026.6 1854.2,2028.9 1855.2,2025.5 1855.3,2028.8 1855.9,2029.2 1856.3,2025.4 1856.9,2025.5 1857.2,2028.6 1858.4,2026.2 1858.5,2028.9 1858.6,2025.7 1859.3,2029.2 1859.7,2028.8 1860.0,2026.4 1860.4,2028.7 1860.8,2025.9 1861.2,2026.2 1861.8,2028.2 1862.3,2026.4 1862.4,2029.2 1863.5,2026.1 1863.6,2028.6 1864.0,2029.2 1864.5,2026.0 1865.5,2025.4 1865.6,2028.4 1866.0,2028.4 1866.3,2026.0 1866.6,2028.4 1866.7,2025.5 1867.7,2026.2 1868.0,2029.2 1869.2,2028.5 1869.3,2025.7 1869.9,2025.9 1870.2,2029.0 1870.3,2025.5 1870.8,2029.0 1871.6,2026.2 1871.9,2028.4 1872.0,2026.3 1872.5,2028.4 1873.0,2026.3 1873.7,2028.7 1874.2,2028.5 1874.3,2025.8 1874.9,2026.6 1875.2,2028.6 1876.0,2028.6 1876.3,2026.2 1877.2,2025.4 1877.3,2028.6 1877.9,2029.1 1878.0,2026.6 1878.7,2026.1 1879.0,2028.6 1879.5,2028.6 1879.6,2025.8 1880.4,2026.0 1880.5,2028.3 1881.7,2028.9 1881.9,2025.6 1882.4,2026.2 1882.5,2029.1 1883.2,2026.4 1883.4,2028.7 1884.1,2025.4 1884.5,2028.5 1885.2,2028.3 1885.4,2025.6 1885.8,2025.6 1886.3,2028.5 1886.5,2029.2 1886.6,2025.6 1888.0,2025.8 1888.1,2028.7 1888.9,2025.9 1889.0,2028.8 1889.5,2026.1 1889.7,2029.1 1890.2,2028.8 1890.5,2025.5 1891.5,2028.6 1891.7,2025.7 1892.2,2026.4 1892.4,2028.6 1893.4,2028.8 1893.5,2026.4 1894.3,2026.2 1894.4,2028.5 1894.8,2029.1 1895.2,2025.7 1896.1,2026.0 1896.2,2028.6 1896.7,2025.9 1897.1,2028.7 1897.3,2026.2 1897.9,2029.0 1898.5,2028.1 1898.6,2025.9 1899.5,2026.2 1899.9,2028.8 1900.5,2029.2 1900.6,2026.5 1900.9,2028.8 1901.5,2026.1 1901.9,2028.9 1902.5,2026.2 1902.8,2026.6 1903.0,2028.7 1903.6,2029.3 1903.9,2026.0 1904.6,2025.7 1904.8,2028.8 1905.5,2025.7 1905.8,2029.2 1906.7,2025.8 1906.8,2028.6 1907.6,2029.1 1908.0,2025.9 1908.3,2025.8 1908.7,2029.2 1909.0,2028.7 1909.1,2026.0 1909.8,2028.6 1910.2,2026.6 1910.7,2026.0 1910.8,2029.2 1912.0,2025.7 1912.3,2029.0 1912.9,2026.1 1913.1,2029.0 1913.5,2026.2 1914.2,2028.7 1914.5,2029.1 1914.6,2026.0 1915.6,2026.1 1915.8,2028.5 1916.3,2026.4 1916.7,2028.7 1917.0,2029.0 1917.3,2025.5 1918.2,2025.5 1918.2,2028.9 1919.0,2029.1 1919.5,2025.7 1919.9,2028.5 1920.6,2026.1 1920.7,2026.1 1921.0,2028.8 1921.8,2025.6 1922.3,2028.8 1922.9,2026.2 1923.2,2029.2 1923.6,2029.0 1923.9,2025.8 1924.4,2028.6 1924.7,2025.9 1925.6,2025.9 1925.7,2029.0 1926.8,2025.5 1926.9,2029.1 1927.2,2025.8 1927.7,2029.0 1928.3,2028.8 1928.4,2025.9 1928.8,2025.7 1929.3,2029.0 1929.6,2029.1 1930.4,2025.9 1931.0,2028.3 1931.2,2025.6 1931.7,2026.1 1931.9,2029.1 1932.7,2028.7 1932.8,2026.1 1933.3,2029.2 1933.9,2025.6 1934.3,2026.5 1934.4,2028.8 1935.6,2025.8 1935.7,2028.5 1936.4,2026.2 1936.6,2029.1 1937.1,2028.9 1937.1,2025.8 1938.0,2028.6 1938.4,2025.7 1938.8,2025.5 1939.4,2028.7 1939.6,2026.2 1939.9,2029.1 1940.4,2028.8 1941.2,2025.7 1941.4,2028.8 1941.9,2025.7 1942.8,2028.9 1942.8,2025.5 1943.7,2028.9 1943.9,2026.1 1944.4,2028.6 1944.4,2026.3 1945.6,2025.7 1945.7,2028.7 1946.5,2028.8 1946.7,2026.0 1946.9,2025.4 1947.1,2028.6 1947.6,2025.6 1948.0,2028.8 1949.1,2028.8 1949.1,2025.8 1950.0,2028.7 1950.2,2025.9 1950.6,2025.7 1951.1,2029.2 1951.5,2029.2 1952.1,2025.5 1952.3,2026.1 1952.5,2028.7 1953.4,2025.7 1953.8,2029.0 1954.0,2026.0 1954.6,2028.8 1955.1,2029.2 1955.6,2026.2 1956.4,2026.0 1956.4,2029.3 1956.6,2025.6 1957.4,2028.7 1958.1,2025.7 1958.2,2028.9 1958.5,2028.6 1958.6,2026.0 1959.5,2028.7 1959.9,2026.4 1960.3,2026.1 1960.6,2029.1 1961.6,2028.5 1961.8,2025.7 1962.4,2028.7 1962.6,2025.8 1962.9,2028.8 1963.6,2025.9 1963.8,2028.0 1963.9,2028.9 1963.9,2027.0 1964.0,2029.2" fill="none" stroke="#000" stroke-width="6.6" stroke-linejoin="round" stroke-linecap="round"/>
<polyline points="431.0,2028.5 600.0,2028.5 740.0,2028.0 800.0,2027.0 840.0,2025.5 869.6,2025.3 877.5,2028.3 903.1,2028.3 920.8,2014.5 946.5,2028.3 958.3,2026.3 966.2,2029.3 989.8,2028.3 1000.7,2022.4 1011.5,2028.3 1021.4,2028.3 1029.3,2025.3 1043.1,2024.3 1047.0,2007.6 1050.6,1990.8 1056.9,1995.8 1064.8,1999.7 1071.7,1985.9 1078.6,1970.1 1086.5,1997.7 1090.4,2015.5 1095.3,2024.3 1101.2,2001.7 1107.2,2019.4 1112.1,2013.5 1118.0,2017.4 1121.9,2001.7 1127.9,1995.8 1137.7,1997.7 1141.7,2019.4 1153.5,1999.7 1159.0,1969.1 1163.3,2005.6 1171.2,2011.5 1179.1,2015.5 1183.1,2027.3 1190.0,1994.4 1197.4,2024.2 1206.8,1998.2 1212.3,2026.1 1221.7,2001.9 1224.5,1977.7 1230.0,1970.2 1236.6,1938.6 1239.3,1977.7 1242.1,2028.0 1245.9,1990.7 1249.6,1998.2 1254.2,1953.5 1257.0,1931.1 1261.7,1996.3 1266.4,2026.1 1270.1,1981.4 1271.9,1987.0 1274.7,1962.8 1277.9,1928.3 1280.3,1968.4 1283.1,2005.6 1287.8,1968.4 1289.6,1916.2 1291.3,1916.2 1293.4,1911.7 1295.4,1834.6 1297.4,1785.4 1299.4,1828.3 1301.4,1910.8 1303.3,1930.1 1305.3,1984.1 1307.2,2012.8 1309.1,2000.1 1310.9,2025.9 1312.8,1989.1 1314.6,2013.1 1316.4,1997.5 1318.2,2012.6 1320.0,1999.3 1321.8,2022.4 1323.5,2004.4 1325.3,2025.1 1327.0,2017.7 1328.7,2028.3 1330.4,2020.3 1332.1,2014.9 1333.7,1982.2 1335.4,1923.1 1337.0,1913.1 1338.6,1823.5 1340.2,1759.0 1341.8,1750.0 1343.4,1757.5 1344.9,1812.7 1346.5,1909.1 1348.0,1915.5 1349.6,1920.1 1351.1,1997.1 1352.6,1932.4 1354.1,2002.7 1355.5,1941.6 1357.0,1965.5 1358.5,1957.4 1359.9,2021.4 1361.3,2024.1 1362.8,2018.3 1364.2,2010.0 1365.6,2012.6 1367.0,2001.1 1368.4,1985.3 1369.7,2001.9 1371.1,1997.8 1372.4,1938.9 1373.8,1975.7 1375.1,1924.8 1376.4,1976.5 1377.7,1910.1 1379.1,2022.9 1380.4,2005.5 1381.6,2006.2 1382.9,1892.9 1384.2,2018.6 1385.4,1897.9 1386.7,1997.5 1387.9,1939.8 1389.2,2025.0 1390.4,1953.1 1391.6,2001.8 1392.9,1932.9 1394.1,2020.6 1395.3,1931.2 1396.4,1989.3 1397.6,1934.8 1398.8,2019.1 1400.0,2004.2 1401.1,2004.7 1402.3,1964.1 1403.4,2013.8 1404.6,1983.8 1405.7,2001.8 1406.8,1980.0 1408.0,2002.3 1409.1,1979.9 1410.2,1942.4 1411.3,1924.0 1412.4,1905.8 1413.5,1807.6 1414.5,1803.9 1415.6,1803.9 1416.7,1805.2 1417.8,1808.1 1418.8,1818.6 1419.9,1912.5 1420.9,1970.6 1422.0,1971.1 1423.0,2008.3 1424.0,1987.4 1425.0,2020.5 1426.1,1987.8 1427.1,2014.9 1428.1,1984.1 1429.1,2018.3 1430.1,1987.7 1431.1,2024.3 1432.1,1994.8 1433.0,2026.5 1434.0,1995.1 1435.0,2020.3 1436.0,1992.9 1436.9,2028.4 1437.9,1998.3 1438.8,2016.5 1439.8,1989.0 1440.7,2014.4 1441.7,1987.8 1442.6,2007.2 1443.5,1989.9 1444.4,2019.3 1445.4,1985.0 1446.3,2011.0 1447.2,1990.3 1448.1,2027.2 1449.0,2002.4 1449.9,1996.8 1450.8,1997.7 1451.7,2023.5 1452.6,1982.0 1453.4,2024.1 1454.3,2008.1 1455.2,2028.4 1456.1,1994.7 1456.9,1970.1 1457.8,2014.1 1458.6,2011.4 1459.5,1998.4 1460.4,1998.9 1461.2,2027.1 1462.0,2006.5 1462.9,2007.3 1463.7,2018.3 1464.5,2005.5 1465.4,2027.3 1466.2,2027.5 1467.0,2023.7 1467.8,2005.6 1468.6,2021.6 1469.5,2005.0 1470.3,2024.2 1471.1,2010.3 1471.9,2021.3 1472.7,2010.9 1473.5,2020.5 1474.2,2012.7 1475.0,2010.7 1475.8,1999.3 1476.6,2015.7 1477.4,1992.1 1478.1,2016.4 1478.9,1967.4 1479.7,2000.8 1480.4,1991.8 1481.2,1994.2 1482.0,2000.5 1482.7,2028.4 1483.5,1970.5 1484.2,2008.3 1485.0,1981.1 1485.7,2024.6 1486.5,1995.0 1487.2,2013.0 1487.9,1997.4 1488.7,2009.3 1489.4,1987.0 1490.1,2027.7 1490.8,1985.9 1491.6,2014.2 1492.3,1987.7 1493.0,2017.1 1493.7,2000.0 1494.4,2027.1 1495.1,2001.6 1495.8,2020.6 1496.5,2000.1 1497.2,2024.8 1497.9,2004.2 1498.6,2021.5 1499.3,2007.1 1500.0,2023.3 1500.7,2015.2 1501.4,2019.6 1502.1,2012.5 1502.7,2025.2 1503.4,2017.7 1504.1,2024.5 1504.8,2009.7 1505.4,2010.2 1506.1,2016.9 1506.8,2018.7 1507.4,2001.4 1508.1,2026.4 1508.7,1983.4 1509.4,2019.5 1510.1,1991.2 1510.7,1983.9 1511.4,2014.3 1512.0,2023.7 1512.6,1975.0 1513.3,2005.2 1513.9,1986.1 1514.6,2009.0 1515.2,1994.9 1515.8,2015.5 1516.5,1961.7 1517.1,2002.7 1517.7,2012.9 1518.4,1987.2 1519.0,1929.4 1519.6,2019.5 1520.2,2001.5 1520.8,1986.3 1521.5,1949.8 1522.1,1998.8 1522.7,1964.5 1523.3,2000.6 1523.9,1952.3 1524.5,1989.8 1525.1,1970.5 1525.7,2008.1 1526.3,1967.7 1526.9,2003.1 1527.5,1995.7 1528.1,2002.2 1528.7,1973.4 1529.3,2028.1 1529.9,1970.5 1530.5,2025.3 1531.0,2024.7 1531.6,2013.7 1532.2,2011.3 1532.8,2003.6 1533.4,2014.5 1533.9,2011.9 1534.5,1987.3 1535.1,2022.4 1535.7,2011.7 1536.2,1989.0 1536.8,1982.1 1537.4,2018.1 1537.9,1996.6 1538.5,2009.1 1539.1,2010.8 1539.6,2026.9 1540.2,1995.2 1540.7,2013.5 1541.3,1986.4 1541.8,2028.4 1542.4,2001.5 1542.9,2029.0 1543.5,1998.3 1544.0,2024.0 1544.6,2010.4 1545.1,2009.1 1545.7,1991.9 1546.2,2027.1 1546.7,1965.3 1547.3,2002.4 1547.8,1964.0 1548.3,2007.6 1548.9,1991.5 1549.4,2010.3 1549.9,1984.9 1550.5,2000.9 1551.0,1979.9 1551.5,2023.3 1552.0,1969.6 1552.6,2019.6 1553.1,2018.6 1553.6,2027.7 1554.1,2009.0 1554.6,2016.9 1555.2,2012.2 1555.7,2017.2 1556.2,2005.0 1556.7,2006.0 1557.2,2006.6 1557.7,2022.6 1558.2,2003.3 1558.7,2024.1 1559.2,2011.1 1559.7,2015.8 1560.2,2004.5 1560.7,2023.4 1561.2,2007.4 1561.7,2018.0 1562.2,2002.0 1562.7,2020.5 1563.2,2022.2 1563.7,2019.5 1564.2,2007.8 1564.7,2025.9 1565.2,1991.7 1565.7,2026.9 1566.2,2021.3 1566.6,2020.4 1567.1,1981.7 1567.6,2020.7 1568.1,1980.1 1568.6,2028.2 1569.0,1991.9 1569.5,2009.1 1570.0,2000.3 1570.5,1997.0 1571.0,2014.7 1571.4,2004.7 1571.9,2022.5 1572.4,2009.2 1572.8,1985.5 1573.3,2017.2 1573.8,2011.7 1574.2,2020.1 1574.7,1997.6 1575.2,2024.0 1575.6,2006.0 1576.1,2028.6 1576.6,1996.7 1577.0,2023.5 1577.5,2000.4 1577.9,2005.2 1578.4,2003.7 1578.8,2011.5 1579.3,2006.6 1579.7,2022.0 1580.2,2001.7 1580.6,2010.7 1581.1,1997.4 1581.5,2017.4 1582.0,1993.2 1582.4,2000.7 1582.9,2008.9 1583.3,2026.8 1583.8,2013.1 1584.2,2026.2 1584.7,2024.2 1585.1,2017.7 1585.5,2014.2 1586.0,2023.7 1586.4,2009.2 1586.8,2009.7 1587.3,2016.4 1587.7,2021.9 1588.1,2016.4 1588.6,2018.0 1589.0,2017.7 1589.9,2021.1 1590.3,2026.4 1590.7,2021.4 1591.2,2029.3 1591.6,2022.0 1592.0,2027.9 1592.4,2022.4 1592.8,2021.5 1593.3,2019.0 1593.7,2028.8 1594.1,2020.8 1594.5,2024.2 1594.9,2022.7 1595.4,2020.0 1595.8,2019.5 1596.2,2027.8 1597.0,2027.6 1597.4,2016.4 1597.8,2028.6 1598.3,2018.9 1598.7,2026.2 1599.1,2019.2 1599.5,2023.9 1599.9,2016.5 1600.3,2024.6 1600.7,2011.5 1601.1,2011.4 1601.9,2003.4 1602.3,2002.1 1602.7,2021.7 1603.1,1995.4 1603.5,2019.4 1603.9,1992.2 1604.3,1989.1 1604.7,2026.8 1605.5,2000.3 1605.9,2010.2 1606.3,1999.4 1606.7,2018.9 1607.1,1999.8 1607.5,2014.1 1608.2,2024.3 1608.6,2000.9 1609.0,2013.0 1609.4,1980.1 1609.8,2008.8 1610.2,1985.4 1610.9,2029.1 1611.3,2017.0 1611.7,2004.2 1612.1,2026.8 1612.5,2007.7 1612.9,2013.6 1613.6,2021.3 1614.0,2012.2 1614.4,2025.8 1614.7,2025.2 1615.5,2020.5 1615.9,2022.8 1616.2,2017.2 1616.6,2022.4 1617.0,2018.6 1617.4,2021.3 1618.1,2026.9 1618.5,2019.5 1618.8,2015.6 1619.6,2026.5 1619.9,2018.1 1620.3,2026.4 1620.7,2021.2 1621.0,2024.6 1621.4,2020.9 1622.1,2017.7 1622.5,2027.1 1622.8,2015.7 1623.2,2024.5 1623.9,2025.9 1624.3,2016.3 1624.6,2025.8 1625.0,2015.8 1625.7,2017.0 1626.1,2015.7 1626.8,2023.4 1627.1,2013.3 1627.5,2017.2 1627.8,2011.9 1628.2,2028.6 1628.5,2019.1 1629.2,2016.6 1629.6,2014.2 1629.9,2014.1 1630.3,2023.4 1631.3,2014.0 1631.7,2027.9 1632.0,2010.4 1632.3,2026.9 1633.0,2026.8 1633.4,2014.7 1633.7,2025.5 1634.4,2014.1 1634.7,2012.4 1635.1,2026.8 1635.7,2022.8 1636.1,2014.0 1636.4,2024.1 1636.7,2018.8 1637.4,2017.6 1637.7,2028.4 1638.4,2025.9 1638.7,2015.5 1639.4,2018.7 1639.7,2025.3 1640.1,2016.7 1640.4,2026.8 1641.0,2024.5 1641.4,2015.6 1641.7,2025.8 1642.0,2018.2 1643.0,2025.5 1643.3,2016.3 1643.7,2026.9 1644.0,2018.3 1644.6,2019.9 1644.9,2024.3 1645.3,2017.2 1645.6,2024.3 1646.2,2026.8 1646.5,2016.2 1647.5,2026.3 1647.8,2017.7 1648.4,2017.7 1648.7,2028.7 1649.1,2015.5 1649.7,2028.7 1650.0,2028.6 1650.3,2028.4 1650.6,2027.8 1650.9,2021.2 1651.6,2018.3 1652.2,2028.6 1652.8,2021.3 1653.1,2028.5 1653.7,2024.6 1654.0,2019.4 1654.3,2024.6 1654.6,2020.3 1655.5,2024.8 1655.8,2020.2 1656.5,2017.7 1656.8,2027.2 1657.4,2023.2 1657.7,2016.7 1658.3,2020.0 1658.6,2027.0 1659.2,2024.4 1659.4,2013.6 1660.0,2013.8 1660.3,2024.4 1660.6,2025.2 1661.2,2027.6 1661.5,2017.2 1662.1,2027.8 1662.4,2013.8 1662.7,2027.2 1663.3,2023.3 1663.6,2028.2 1664.1,2017.7 1664.4,2026.3 1665.0,2025.9 1665.3,2022.3 1666.5,2023.3 1666.7,2026.6 1667.0,2022.6 1667.6,2026.1 1667.9,2028.7 1668.2,2022.9 1669.0,2025.0 1669.3,2019.6 1669.6,2026.6 1669.9,2022.0 1670.7,2026.0 1671.3,2020.1 1671.5,2020.2 1671.8,2027.1 1672.7,2023.0 1672.9,2025.4 1673.2,2023.9 1673.5,2021.1 1674.0,2028.4 1674.9,2022.1 1675.1,2026.1 1675.4,2028.1 1676.2,2025.9 1676.5,2019.9 1676.8,2021.6 1677.3,2028.9 1678.1,2022.9 1678.4,2025.4 1678.7,2022.0 1678.9,2029.1 1680.0,2027.4 1680.3,2021.9 1680.5,2028.5 1680.8,2026.2 1681.3,2023.3 1681.6,2026.3 1682.1,2027.4 1682.9,2023.4 1683.4,2024.7 1683.7,2028.3 1684.2,2028.3 1684.5,2023.1 1685.0,2024.3 1685.3,2027.8 1685.8,2028.1 1686.5,2025.3 1686.8,2028.4 1687.1,2025.3 1687.6,2024.4 1687.8,2028.5 1688.9,2028.3 1689.1,2024.9 1689.6,2024.4 1689.9,2028.8 1690.4,2027.3 1690.6,2024.1 1691.1,2024.3 1691.9,2027.1 1692.1,2023.8 1692.9,2027.3 1693.1,2024.9 1693.6,2027.7 1693.9,2028.0 1694.1,2023.5 1694.9,2028.8 1695.1,2023.8 1695.6,2024.5 1696.3,2028.0 1696.8,2027.6 1697.1,2023.6 1698.0,2023.7 1698.3,2028.5 1698.5,2027.8 1699.0,2026.5 1699.3,2028.7 1699.5,2025.2 1700.2,2026.7 1700.9,2025.1 1701.2,2029.0 1701.7,2024.2 1702.1,2028.7 1702.4,2023.8 1702.8,2025.1 1703.5,2028.3 1703.8,2025.4 1704.0,2028.2 1705.2,2025.8 1705.4,2029.0 1706.1,2025.6 1706.4,2028.4 1707.0,2024.4 1707.3,2028.6 1707.7,2028.4 1708.0,2025.0 1708.2,2027.7 1708.4,2026.0 1709.1,2028.8 1709.3,2025.1 1710.0,2028.0 1710.3,2025.1 1711.4,2028.5 1711.6,2024.9 1712.1,2024.8 1712.3,2028.7 1712.7,2028.2 1713.4,2026.3 1713.9,2024.8 1714.1,2028.9 1714.5,2025.4 1715.0,2027.9 1715.4,2028.9 1716.1,2024.8 1716.5,2024.6 1717.2,2028.8 1717.8,2026.0 1718.1,2028.4 1718.3,2025.3 1718.9,2027.0 1719.1,2025.0 1719.4,2028.5 1720.2,2027.8 1720.4,2025.2 1721.3,2024.8 1721.5,2028.5 1721.9,2028.5 1722.4,2025.1 1722.8,2027.8 1723.0,2025.9 1723.7,2028.7 1723.9,2025.4 1724.7,2025.7 1725.1,2028.0 1725.5,2025.7 1726.2,2028.9 1726.8,2026.8 1727.0,2029.2 1727.4,2028.0 1727.6,2025.5 1728.1,2024.9 1728.3,2029.1 1729.3,2026.2 1729.5,2027.3 1730.1,2026.5 1730.3,2028.5 1730.7,2029.2 1731.3,2025.2 1732.1,2025.7 1732.4,2028.7 1732.8,2025.5 1733.2,2028.1 1734.0,2028.7 1734.2,2025.5 1734.8,2028.1 1735.0,2025.1 1735.4,2025.5 1735.6,2028.4 1736.4,2028.9 1737.0,2025.3 1737.3,2026.3 1737.5,2028.4 1737.9,2028.9 1738.5,2025.8 1739.3,2025.1 1739.5,2028.3 1739.7,2025.7 1740.3,2028.0 1740.9,2028.7 1741.3,2026.0 1741.6,2025.6 1742.2,2028.0 1743.0,2028.7 1743.2,2025.8 1743.4,2025.9 1744.1,2028.8 1744.7,2025.4 1744.9,2028.8 1745.6,2027.8 1745.8,2026.1 1746.2,2026.7 1746.8,2028.0 1747.0,2025.9 1747.5,2029.1 1748.1,2026.5 1748.3,2029.1 1749.4,2027.8 1749.6,2025.4 1750.1,2028.6 1750.3,2026.0 1750.7,2025.9 1751.2,2029.2 1751.6,2028.3 1751.8,2025.8 1752.5,2025.8 1752.7,2028.3 1753.4,2028.8 1753.6,2025.6 1754.3,2026.3 1754.9,2028.7 1755.2,2028.6 1755.4,2026.4 1756.5,2026.6 1756.6,2028.3 1757.4,2028.1 1757.5,2026.2 1758.1,2028.9 1758.2,2026.0 1758.8,2028.3 1759.0,2026.2 1759.8,2028.7 1760.4,2026.0 1760.9,2028.8 1761.1,2026.0 1761.4,2026.3 1761.9,2028.7 1762.3,2028.5 1762.8,2026.1 1763.3,2029.3 1763.5,2025.9 1764.2,2026.0 1764.7,2029.3 1765.4,2025.9 1765.7,2029.0 1766.2,2025.4 1766.4,2028.3 1766.7,2028.4 1767.6,2026.2 1768.1,2029.2 1768.2,2026.3 1768.7,2028.7 1769.2,2026.5 1769.7,2027.9 1770.2,2025.8 1770.4,2028.9 1770.9,2026.7 1771.9,2026.4 1772.0,2029.0 1772.7,2028.1 1772.9,2025.9 1773.0,2028.9 1773.5,2025.5 1774.2,2025.5 1774.3,2028.8 1774.8,2025.8 1775.6,2029.4 1776.1,2026.4 1776.3,2028.4 1776.9,2028.6 1777.4,2025.2 1777.5,2029.0 1778.3,2026.2 1778.8,2028.2 1779.0,2025.9 1779.9,2026.7 1780.1,2028.2 1780.6,2025.9 1780.7,2028.1 1781.2,2026.8 1781.3,2029.0 1782.4,2025.4 1782.6,2028.1 1783.2,2028.0 1783.7,2025.9 1784.1,2028.6 1784.3,2025.4 1784.9,2025.7 1785.1,2028.3 1786.0,2027.7 1786.1,2025.8 1787.0,2026.2 1787.2,2029.3 1787.8,2028.7 1788.0,2025.8 1788.7,2028.1 1788.9,2026.0 1789.3,2028.5 1790.1,2025.1 1790.4,2028.5 1790.9,2025.7 1791.7,2029.1 1791.8,2025.2 1792.3,2028.1 1792.4,2025.8 1793.0,2025.9 1793.2,2029.1 1793.8,2028.0 1794.0,2025.7 1794.6,2028.5 1795.4,2025.8 1795.7,2025.4 1795.8,2028.8 1796.7,2029.0 1796.8,2025.5 1797.4,2029.0 1798.0,2025.4 1798.8,2025.7 1799.0,2027.3 1799.2,2028.1 1799.4,2026.2 1800.1,2028.1 1800.2,2025.1 1801.4,2026.2 1801.5,2029.0 1801.9,2027.9 1802.5,2025.5 1803.0,2025.3 1803.2,2029.2 1803.7,2028.7 1804.2,2025.6 1804.9,2028.9 1805.3,2026.6 1805.7,2026.2 1806.0,2028.6 1806.5,2028.9 1806.9,2025.7 1807.3,2028.6 1807.7,2025.9 1808.1,2028.9 1808.3,2025.7 1809.2,2028.6 1809.6,2025.3 1810.0,2029.1 1810.7,2025.3 1810.8,2025.7 1811.1,2028.5 1811.8,2025.8 1812.2,2028.7 1812.7,2028.3 1813.4,2025.6 1813.6,2026.5 1814.0,2029.2 1814.4,2026.4 1814.8,2029.0 1815.3,2027.9 1815.6,2025.9 1816.4,2028.5 1817.0,2025.3 1817.4,2029.2 1817.6,2025.6 1818.2,2028.6 1818.7,2025.1 1819.0,2026.1 1819.4,2029.0 1820.1,2025.8 1820.2,2028.0 1820.8,2028.9 1821.4,2025.2 1822.0,2028.2 1822.2,2025.3 1822.8,2025.5 1823.3,2028.0 1823.5,2029.1 1824.2,2026.1 1824.4,2025.9 1825.0,2027.8 1825.3,2028.1 1825.8,2025.2 1826.1,2025.3 1826.8,2028.2 1827.7,2028.9 1827.9,2026.0 1828.0,2028.5 1828.1,2025.3 1829.0,2026.1 1829.5,2028.7 1830.1,2025.7 1830.2,2028.3 1830.8,2026.3 1831.4,2029.1 1831.7,2025.5 1831.9,2028.5 1832.6,2028.7 1832.7,2025.7 1833.9,2028.4 1834.0,2025.9 1834.5,2027.7 1834.8,2025.8 1835.5,2025.8 1835.7,2029.2 1836.1,2028.8 1836.8,2025.6 1837.1,2029.0 1837.2,2025.7 1837.9,2025.5 1838.0,2028.5 1839.2,2028.8 1839.3,2026.0 1840.3,2029.2 1840.4,2026.0 1841.1,2028.6 1841.3,2026.0 1841.7,2029.0 1842.3,2026.1 1843.0,2028.7 1843.2,2026.2 1843.5,2028.8 1843.8,2025.8 1844.3,2026.0 1844.6,2028.9 1845.1,2028.6 1845.4,2025.8 1846.0,2029.2 1846.5,2025.8 1847.0,2025.9 1847.3,2028.4 1847.8,2025.9 1848.0,2028.4 1848.7,2025.7 1849.5,2028.8 1850.0,2025.9 1850.4,2028.5 1850.6,2028.8 1850.7,2025.7 1851.4,2028.5 1852.0,2026.0 1852.3,2029.3 1853.1,2025.9 1853.2,2028.7 1853.9,2025.6 1854.1,2026.6 1854.2,2028.9 1855.2,2025.5 1855.3,2028.8 1855.9,2029.2 1856.3,2025.4 1856.9,2025.5 1857.2,2028.6 1858.4,2026.2 1858.5,2028.9 1858.6,2025.7 1859.3,2029.2 1859.7,2028.8 1860.0,2026.4 1860.4,2028.7 1860.8,2025.9 1861.2,2026.2 1861.8,2028.2 1862.3,2026.4 1862.4,2029.2 1863.5,2026.1 1863.6,2028.6 1864.0,2029.2 1864.5,2026.0 1865.5,2025.4 1865.6,2028.4 1866.0,2028.4 1866.3,2026.0 1866.6,2028.4 1866.7,2025.5 1867.7,2026.2 1868.0,2029.2 1869.2,2028.5 1869.3,2025.7 1869.9,2025.9 1870.2,2029.0 1870.3,2025.5 1870.8,2029.0 1871.6,2026.2 1871.9,2028.4 1872.0,2026.3 1872.5,2028.4 1873.0,2026.3 1873.7,2028.7 1874.2,2028.5 1874.3,2025.8 1874.9,2026.6 1875.2,2028.6 1876.0,2028.6 1876.3,2026.2 1877.2,2025.4 1877.3,2028.6 1877.9,2029.1 1878.0,2026.6 1878.7,2026.1 1879.0,2028.6 1879.5,2028.6 1879.6,2025.8 1880.4,2026.0 1880.5,2028.3 1881.7,2028.9 1881.9,2025.6 1882.4,2026.2 1882.5,2029.1 1883.2,2026.4 1883.4,2028.7 1884.1,2025.4 1884.5,2028.5 1885.2,2028.3 1885.4,2025.6 1885.8,2025.6 1886.3,2028.5 1886.5,2029.2 1886.6,2025.6 1888.0,2025.8 1888.1,2028.7 1888.9,2025.9 1889.0,2028.8 1889.5,2026.1 1889.7,2029.1 1890.2,2028.8 1890.5,2025.5 1891.5,2028.6 1891.7,2025.7 1892.2,2026.4 1892.4,2028.6 1893.4,2028.8 1893.5,2026.4 1894.3,2026.2 1894.4,2028.5 1894.8,2029.1 1895.2,2025.7 1896.1,2026.0 1896.2,2028.6 1896.7,2025.9 1897.1,2028.7 1897.3,2026.2 1897.9,2029.0 1898.5,2028.1 1898.6,2025.9 1899.5,2026.2 1899.9,2028.8 1900.5,2029.2 1900.6,2026.5 1900.9,2028.8 1901.5,2026.1 1901.9,2028.9 1902.5,2026.2 1902.8,2026.6 1903.0,2028.7 1903.6,2029.3 1903.9,2026.0 1904.6,2025.7 1904.8,2028.8 1905.5,2025.7 1905.8,2029.2 1906.7,2025.8 1906.8,2028.6 1907.6,2029.1 1908.0,2025.9 1908.3,2025.8 1908.7,2029.2 1909.0,2028.7 1909.1,2026.0 1909.8,2028.6 1910.2,2026.6 1910.7,2026.0 1910.8,2029.2 1912.0,2025.7 1912.3,2029.0 1912.9,2026.1 1913.1,2029.0 1913.5,2026.2 1914.2,2028.7 1914.5,2029.1 1914.6,2026.0 1915.6,2026.1 1915.8,2028.5 1916.3,2026.4 1916.7,2028.7 1917.0,2029.0 1917.3,2025.5 1918.2,2025.5 1918.2,2028.9 1919.0,2029.1 1919.5,2025.7 1919.9,2028.5 1920.6,2026.1 1920.7,2026.1 1921.0,2028.8 1921.8,2025.6 1922.3,2028.8 1922.9,2026.2 1923.2,2029.2 1923.6,2029.0 1923.9,2025.8 1924.4,2028.6 1924.7,2025.9 1925.6,2025.9 1925.7,2029.0 1926.8,2025.5 1926.9,2029.1 1927.2,2025.8 1927.7,2029.0 1928.3,2028.8 1928.4,2025.9 1928.8,2025.7 1929.3,2029.0 1929.6,2029.1 1930.4,2025.9 1931.0,2028.3 1931.2,2025.6 1931.7,2026.1 1931.9,2029.1 1932.7,2028.7 1932.8,2026.1 1933.3,2029.2 1933.9,2025.6 1934.3,2026.5 1934.4,2028.8 1935.6,2025.8 1935.7,2028.5 1936.4,2026.2 1936.6,2029.1 1937.1,2028.9 1937.1,2025.8 1938.0,2028.6 1938.4,2025.7 1938.8,2025.5 1939.4,2028.7 1939.6,2026.2 1939.9,2029.1 1940.4,2028.8 1941.2,2025.7 1941.4,2028.8 1941.9,2025.7 1942.8,2028.9 1942.8,2025.5 1943.7,2028.9 1943.9,2026.1 1944.4,2028.6 1944.4,2026.3 1945.6,2025.7 1945.7,2028.7 1946.5,2028.8 1946.7,2026.0 1946.9,2025.4 1947.1,2028.6 1947.6,2025.6 1948.0,2028.8 1949.1,2028.8 1949.1,2025.8 1950.0,2028.7 1950.2,2025.9 1950.6,2025.7 1951.1,2029.2 1951.5,2029.2 1952.1,2025.5 1952.3,2026.1 1952.5,2028.7 1953.4,2025.7 1953.8,2029.0 1954.0,2026.0 1954.6,2028.8 1955.1,2029.2 1955.6,2026.2 1956.4,2026.0 1956.4,2029.3 1956.6,2025.6 1957.4,2028.7 1958.1,2025.7 1958.2,2028.9 1958.5,2028.6 1958.6,2026.0 1959.5,2028.7 1959.9,2026.4 1960.3,2026.1 1960.6,2029.1 1961.6,2028.5 1961.8,2025.7 1962.4,2028.7 1962.6,2025.8 1962.9,2028.8 1963.6,2025.9 1963.8,2028.0 1963.9,2028.9 1963.9,2027.0 1964.0,2029.2" fill="none" stroke="#F04343" stroke-width="6.4" stroke-linejoin="round" stroke-dasharray="15 12.5"/>
<polygon points="1960.7,2023.6 1975.4,2019.9 1976.3,2010.7 1984.6,2008.0 1984.6,1979.5 1991.9,1975.9 1991.9,1924.5 1999.3,1920.8 2000.2,1803.4 2002.6,1748.3 2006.2,1745.6 2010.0,1748.3 2010.4,1931.8 2012.3,1966.7 2014.5,1968.5 2014.7,2021.7 2011.5,2030.5" fill="#F04343" stroke="#000" stroke-width="3.5" stroke-linejoin="round"/>
<polygon points="1960.7,2023.6 1975.4,2019.9 1976.3,2010.7 1984.6,2008.0 1984.6,1979.5 1991.9,1975.9 1991.9,1924.5 1999.3,1920.8 2000.2,1803.4 2002.6,1748.3 2006.2,1745.6 2010.0,1748.3 2010.4,1931.8 2012.3,1966.7 2014.5,1968.5 2014.7,2021.7 2011.5,2030.5" fill="none" stroke="#F04343" stroke-width="4" stroke-linejoin="round" stroke-dasharray="26 5"/>
<path d="M236.1,2088.3v-13M254.2,2088.3v-13M270.7,2088.3v-13M285.9,2088.3v-13M300.0,2088.3v-13M313.1,2088.3v-13M325.4,2088.3v-13M336.9,2088.3v-13M347.7,2088.3v-24M367.8,2088.3v-13M385.9,2088.3v-13M402.4,2088.3v-13M417.6,2088.3v-13M431.7,2088.3v-13M444.8,2088.3v-13M457.0,2088.3v-13M468.5,2088.3v-13M479.4,2088.3v-24M499.4,2088.3v-13M517.5,2088.3v-13M534.0,2088.3v-13M549.2,2088.3v-13M563.3,2088.3v-13M576.4,2088.3v-13M588.7,2088.3v-13M600.2,2088.3v-13M611.0,2088.3v-24M631.1,2088.3v-13M649.2,2088.3v-13M665.7,2088.3v-13M680.9,2088.3v-13M695.0,2088.3v-13M708.1,2088.3v-13M720.3,2088.3v-13M731.8,2088.3v-13M742.7,2088.3v-24M762.7,2088.3v-13M780.8,2088.3v-13M797.3,2088.3v-13M812.5,2088.3v-13M826.6,2088.3v-13M839.7,2088.3v-13M852.0,2088.3v-13M863.5,2088.3v-13M874.3,2088.3v-24M894.4,2088.3v-13M912.5,2088.3v-13M929.0,2088.3v-13M944.2,2088.3v-13M958.3,2088.3v-13M971.4,2088.3v-13M983.6,2088.3v-13M995.1,2088.3v-13M1006.0,2088.3v-24M1026.0,2088.3v-13M1044.1,2088.3v-13M1060.6,2088.3v-13M1075.8,2088.3v-13M1089.9,2088.3v-13M1103.0,2088.3v-13M1115.3,2088.3v-13M1126.8,2088.3v-13M1137.6,2088.3v-24M1157.7,2088.3v-13M1175.8,2088.3v-13M1192.3,2088.3v-13M1207.5,2088.3v-13M1221.6,2088.3v-13M1234.7,2088.3v-13M1246.9,2088.3v-13M1258.4,2088.3v-13M1269.3,2088.3v-24M1289.3,2088.3v-13M1307.4,2088.3v-13M1323.9,2088.3v-13M1339.1,2088.3v-13M1353.2,2088.3v-13M1366.3,2088.3v-13M1378.6,2088.3v-13M1390.1,2088.3v-13M1401.0,2088.3v-24M1421.0,2088.3v-13M1439.1,2088.3v-13M1455.6,2088.3v-13M1470.8,2088.3v-13M1484.9,2088.3v-13M1498.0,2088.3v-13M1510.2,2088.3v-13M1521.7,2088.3v-13M1532.6,2088.3v-24M1552.6,2088.3v-13M1570.7,2088.3v-13M1587.2,2088.3v-13M1602.4,2088.3v-13M1616.5,2088.3v-13M1629.6,2088.3v-13M1641.9,2088.3v-13M1653.4,2088.3v-13M1664.2,2088.3v-24M1684.3,2088.3v-13M1702.4,2088.3v-13M1718.9,2088.3v-13M1734.1,2088.3v-13M1748.2,2088.3v-13M1761.3,2088.3v-13M1773.5,2088.3v-13M1785.0,2088.3v-13M1795.9,2088.3v-24M1815.9,2088.3v-13M1834.0,2088.3v-13M1850.5,2088.3v-13M1865.7,2088.3v-13M1879.8,2088.3v-13M1892.9,2088.3v-13M1905.2,2088.3v-13M1916.7,2088.3v-13M1927.5,2088.3v-24M1947.6,2088.3v-13M1965.7,2088.3v-13M1982.2,2088.3v-13M1997.4,2088.3v-13M2011.5,2088.3v-13M2024.6,2088.3v-13M2036.8,2088.3v-13M2048.3,2088.3v-13M2059.2,2088.3v-24M2079.2,2088.3v-13M2097.3,2088.3v-13M2113.8,2088.3v-13M2129.0,2088.3v-13M2143.1,2088.3v-13M215.7,1794.4h26M215.7,1911.7h26M215.7,2029.0h26M215.7,1735.8h13M215.7,1853.0h13M215.7,1970.3h13" stroke="#000" stroke-width="4.2" fill="none"/>
<rect x="215.7" y="1677.0" width="1932.7" height="411.3" fill="none" stroke="#000" stroke-width="5"/>
<text x="216.1" y="2158.0" font-size="54.8" text-anchor="middle" fill="#111">0.00391</text>
<text x="479.4" y="2158.0" font-size="54.8" text-anchor="middle" fill="#111">0.01563</text>
<text x="742.7" y="2158.0" font-size="54.8" text-anchor="middle" fill="#111">0.0625</text>
<text x="1006.0" y="2158.0" font-size="54.8" text-anchor="middle" fill="#111">0.25</text>
<text x="1269.3" y="2158.0" font-size="54.8" text-anchor="middle" fill="#111">1</text>
<text x="1532.6" y="2158.0" font-size="54.8" text-anchor="middle" fill="#111">4</text>
<text x="1795.9" y="2158.0" font-size="54.8" text-anchor="middle" fill="#111">16</text>
<text x="2059.2" y="2158.0" font-size="54.8" text-anchor="middle" fill="#111">64</text>
<text x="185.5" y="1691.6" font-size="55.5" text-anchor="end" fill="#111">0.3</text>
<text x="185.5" y="1808.9" font-size="55.5" text-anchor="end" fill="#111">0.2</text>
<text x="185.5" y="1926.2" font-size="55.5" text-anchor="end" fill="#111">0.1</text>
<text x="185.5" y="2043.5" font-size="55.5" text-anchor="end" fill="#111">0.0</text>
<text x="1186.5" y="2215.5" font-size="59" text-anchor="middle" fill="#111" letter-spacing="1">Frequency/Hz</text>
<text transform="translate(98.5,1916) rotate(-90)" font-size="55.6" text-anchor="middle" fill="#111">Power spectral density/(m<tspan font-size="34" dy="-20">2</tspan><tspan dy="20">/s</tspan><tspan font-size="34" dy="-20">3</tspan><tspan dy="20">)</tspan></text>
<path d="M334,2261.5H467" stroke="#000" stroke-width="9" stroke-linecap="round"/>
<path d="M1066,2261.5H1196" stroke="#F04343" stroke-width="9" stroke-dasharray="17.5 10.5"/>
<text x="483.5" y="2282.0" font-size="59.5" text-anchor="start" fill="#111" letter-spacing="0.42">Collected seismic wave</text>
<text x="1216.5" y="2282.0" font-size="59.5" text-anchor="start" fill="#111" letter-spacing="0.42">Baseline corrected seismic wave</text>
</g>
<text x="1113" y="2410" font-size="88" text-anchor="middle">(<tspan font-weight="bold">c</tspan>)</text>
</svg></body></html>
